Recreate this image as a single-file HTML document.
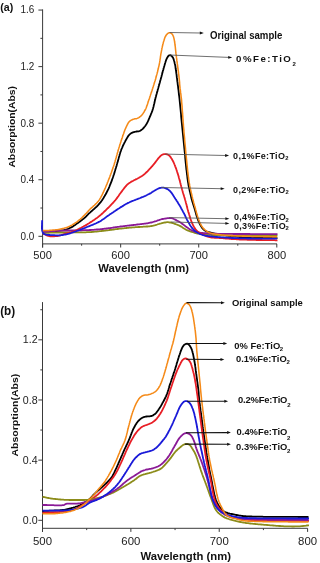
<!DOCTYPE html>
<html><head><meta charset="utf-8"><style>
html,body{margin:0;padding:0;background:#fff;width:318px;height:563px;overflow:hidden}
svg{display:block}
text{font-family:"Liberation Sans",sans-serif}
svg{will-change:transform}
</style></head><body>
<svg width="318" height="563" viewBox="0 0 318 563">
<line x1="42.6" y1="9.4" x2="42.6" y2="247.5" stroke="#3a3a3a" stroke-width="1"/>
<line x1="42.6" y1="243.9" x2="277.0" y2="243.9" stroke="#3a3a3a" stroke-width="1"/>
<line x1="38.4" y1="236.30" x2="42.6" y2="236.30" stroke="#3a3a3a" stroke-width="1"/>
<text x="34.2" y="239.70" text-anchor="end" font-size="10.3" fill="#222" textLength="13.8" lengthAdjust="spacingAndGlyphs">0.0</text>
<line x1="40.4" y1="208.02" x2="42.6" y2="208.02" stroke="#3a3a3a" stroke-width="1"/>
<line x1="38.4" y1="179.74" x2="42.6" y2="179.74" stroke="#3a3a3a" stroke-width="1"/>
<text x="34.2" y="183.14" text-anchor="end" font-size="10.3" fill="#222" textLength="13.8" lengthAdjust="spacingAndGlyphs">0.4</text>
<line x1="40.4" y1="151.46" x2="42.6" y2="151.46" stroke="#3a3a3a" stroke-width="1"/>
<line x1="38.4" y1="123.18" x2="42.6" y2="123.18" stroke="#3a3a3a" stroke-width="1"/>
<text x="34.2" y="126.58" text-anchor="end" font-size="10.3" fill="#222" textLength="13.8" lengthAdjust="spacingAndGlyphs">0.8</text>
<line x1="40.4" y1="94.90" x2="42.6" y2="94.90" stroke="#3a3a3a" stroke-width="1"/>
<line x1="38.4" y1="66.62" x2="42.6" y2="66.62" stroke="#3a3a3a" stroke-width="1"/>
<text x="34.2" y="70.02" text-anchor="end" font-size="10.3" fill="#222" textLength="13.8" lengthAdjust="spacingAndGlyphs">1.2</text>
<line x1="40.4" y1="38.34" x2="42.6" y2="38.34" stroke="#3a3a3a" stroke-width="1"/>
<line x1="38.4" y1="10.06" x2="42.6" y2="10.06" stroke="#3a3a3a" stroke-width="1"/>
<text x="34.2" y="13.46" text-anchor="end" font-size="10.3" fill="#222" textLength="13.8" lengthAdjust="spacingAndGlyphs">1.6</text>
<line x1="42.60" y1="243.9" x2="42.60" y2="247.5" stroke="#3a3a3a" stroke-width="1"/>
<text x="42.60" y="258.6" text-anchor="middle" font-size="11.0" fill="#222" textLength="18.6" lengthAdjust="spacingAndGlyphs">500</text>
<line x1="81.63" y1="243.9" x2="81.63" y2="245.70000000000002" stroke="#3a3a3a" stroke-width="1"/>
<line x1="120.67" y1="243.9" x2="120.67" y2="247.5" stroke="#3a3a3a" stroke-width="1"/>
<text x="120.67" y="258.6" text-anchor="middle" font-size="11.0" fill="#222" textLength="18.6" lengthAdjust="spacingAndGlyphs">600</text>
<line x1="159.70" y1="243.9" x2="159.70" y2="245.70000000000002" stroke="#3a3a3a" stroke-width="1"/>
<line x1="198.73" y1="243.9" x2="198.73" y2="247.5" stroke="#3a3a3a" stroke-width="1"/>
<text x="198.73" y="258.6" text-anchor="middle" font-size="11.0" fill="#222" textLength="18.6" lengthAdjust="spacingAndGlyphs">700</text>
<line x1="237.77" y1="243.9" x2="237.77" y2="245.70000000000002" stroke="#3a3a3a" stroke-width="1"/>
<line x1="276.80" y1="243.9" x2="276.80" y2="247.5" stroke="#3a3a3a" stroke-width="1"/>
<text x="276.80" y="258.6" text-anchor="middle" font-size="11.0" fill="#222" textLength="18.6" lengthAdjust="spacingAndGlyphs">800</text>
<text x="98.3" y="272.3" font-size="11.3" font-weight="bold" fill="#111" textLength="90.8" lengthAdjust="spacingAndGlyphs">Wavelength (nm)</text>
<text transform="translate(14.5,126.8) rotate(-90)" text-anchor="middle" font-size="9.7" font-weight="bold" fill="#111" textLength="81.6" lengthAdjust="spacingAndGlyphs">Absorption(Abs)</text>
<text x="0.2" y="11.4" font-size="10.8" font-weight="bold" fill="#111" textLength="13.0" lengthAdjust="spacingAndGlyphs">(a)</text>
<path d="M42.8,231.2 L43.8,231.2 L44.8,231.2 L45.8,231.2 L46.8,231.1 L47.8,231.1 L48.8,231.1 L49.8,231.1 L50.8,231.1 L51.8,231.1 L52.8,231.1 L53.8,231.1 L54.8,231.1 L55.8,231.0 L56.8,231.0 L57.8,230.9 L58.8,230.8 L59.8,230.7 L60.8,230.6 L61.8,230.4 L62.7,230.3 L63.7,230.1 L64.7,229.8 L65.7,229.6 L66.6,229.3 L67.6,229.0 L68.5,228.7 L69.4,228.3 L70.3,227.8 L71.2,227.4 L72.1,226.9 L72.9,226.4 L73.8,225.8 L74.6,225.3 L75.4,224.7 L76.2,224.1 L77.0,223.5 L77.9,222.9 L78.7,222.4 L79.5,221.8 L80.3,221.2 L81.1,220.6 L81.9,220.0 L82.7,219.4 L83.5,218.8 L84.2,218.1 L85.0,217.5 L85.7,216.8 L86.4,216.1 L87.1,215.4 L87.8,214.7 L88.5,213.9 L89.2,213.2 L90.0,212.6 L90.7,211.9 L91.5,211.2 L92.2,210.6 L93.0,209.9 L93.7,209.3 L94.5,208.6 L95.2,207.9 L95.9,207.3 L96.7,206.6 L97.4,205.8 L98.1,205.1 L98.7,204.4 L99.4,203.6 L100.0,202.9 L100.7,202.1 L101.3,201.3 L101.9,200.5 L102.4,199.7 L103.0,198.8 L103.5,198.0 L104.0,197.1 L104.5,196.3 L105.0,195.4 L105.5,194.6 L106.0,193.7 L106.5,192.8 L106.9,191.9 L107.4,191.0 L107.8,190.1 L108.3,189.2 L108.7,188.3 L109.1,187.4 L109.5,186.5 L109.8,185.5 L110.2,184.6 L110.6,183.7 L110.9,182.8 L111.3,181.8 L111.7,180.9 L112.0,179.9 L112.3,179.0 L112.7,178.1 L113.0,177.1 L113.3,176.2 L113.6,175.2 L114.0,174.3 L114.3,173.3 L114.6,172.4 L114.8,171.4 L115.1,170.5 L115.4,169.5 L115.7,168.5 L116.0,167.6 L116.3,166.6 L116.6,165.7 L116.8,164.7 L117.1,163.8 L117.4,162.8 L117.7,161.8 L118.0,160.9 L118.2,159.9 L118.5,158.9 L118.7,158.0 L119.0,157.0 L119.3,156.1 L119.6,155.1 L119.8,154.1 L120.1,153.2 L120.4,152.2 L120.7,151.3 L121.1,150.3 L121.4,149.4 L121.8,148.5 L122.2,147.6 L122.6,146.6 L123.0,145.7 L123.4,144.8 L123.9,143.9 L124.3,143.0 L124.8,142.1 L125.2,141.3 L125.7,140.4 L126.2,139.5 L126.7,138.6 L127.2,137.8 L127.7,136.9 L128.2,136.1 L128.8,135.3 L129.5,134.5 L130.3,133.9 L131.1,133.3 L131.9,132.8 L132.9,132.4 L133.8,132.1 L134.8,131.8 L135.7,131.7 L136.7,131.5 L137.7,131.4 L138.7,131.3 L139.6,131.0 L140.5,130.6 L141.3,130.0 L142.1,129.4 L142.9,128.7 L143.6,128.0 L144.2,127.2 L144.8,126.5 L145.4,125.7 L146.0,124.8 L146.5,124.0 L147.0,123.1 L147.5,122.2 L147.9,121.3 L148.4,120.4 L148.7,119.5 L149.1,118.6 L149.5,117.7 L149.9,116.7 L150.3,115.8 L150.7,114.9 L151.0,114.0 L151.4,113.1 L151.8,112.1 L152.2,111.2 L152.5,110.3 L152.8,109.3 L153.1,108.3 L153.3,107.4 L153.6,106.4 L153.8,105.4 L154.0,104.5 L154.3,103.5 L154.5,102.5 L154.7,101.5 L154.9,100.6 L155.2,99.6 L155.4,98.6 L155.6,97.6 L155.9,96.7 L156.1,95.7 L156.4,94.7 L156.7,93.8 L156.9,92.8 L157.2,91.9 L157.5,90.9 L157.7,89.9 L158.0,89.0 L158.3,88.0 L158.5,87.0 L158.8,86.1 L159.1,85.1 L159.3,84.2 L159.6,83.2 L159.9,82.2 L160.1,81.3 L160.4,80.3 L160.7,79.3 L160.9,78.4 L161.2,77.4 L161.5,76.4 L161.7,75.5 L162.0,74.5 L162.2,73.5 L162.5,72.6 L162.7,71.6 L163.0,70.6 L163.3,69.7 L163.5,68.7 L163.8,67.8 L164.1,66.8 L164.4,65.8 L164.6,64.9 L164.9,63.9 L165.2,63.0 L165.5,62.0 L165.8,61.0 L166.1,60.1 L166.5,59.2 L166.9,58.3 L167.4,57.4 L167.9,56.6 L168.5,55.8 L169.3,55.3 L170.2,55.2 L171.0,55.5 L171.8,56.1 L172.4,56.9 L173.0,57.7 L173.4,58.6 L173.7,59.5 L174.0,60.5 L174.3,61.4 L174.5,62.4 L174.7,63.4 L175.0,64.4 L175.2,65.3 L175.4,66.3 L175.5,67.3 L175.6,68.3 L175.8,69.3 L175.9,70.3 L176.1,71.3 L176.2,72.3 L176.3,73.2 L176.5,74.2 L176.6,75.2 L176.7,76.2 L176.8,77.2 L177.0,78.2 L177.1,79.2 L177.2,80.2 L177.3,81.2 L177.5,82.2 L177.6,83.2 L177.7,84.2 L177.8,85.1 L178.0,86.1 L178.1,87.1 L178.2,88.1 L178.3,89.1 L178.5,90.1 L178.6,91.1 L178.7,92.1 L178.8,93.1 L178.9,94.1 L179.0,95.1 L179.2,96.1 L179.3,97.1 L179.4,98.0 L179.5,99.0 L179.6,100.0 L179.7,101.0 L179.8,102.0 L179.9,103.0 L180.0,104.0 L180.1,105.0 L180.2,106.0 L180.3,107.0 L180.4,108.0 L180.5,109.0 L180.6,110.0 L180.7,111.0 L180.8,112.0 L180.9,113.0 L181.0,114.0 L181.1,115.0 L181.1,115.9 L181.2,116.9 L181.3,117.9 L181.4,118.9 L181.5,119.9 L181.6,120.9 L181.7,121.9 L181.8,122.9 L181.9,123.9 L182.0,124.9 L182.1,125.9 L182.2,126.9 L182.3,127.9 L182.4,128.9 L182.5,129.9 L182.6,130.9 L182.7,131.9 L182.8,132.9 L182.9,133.9 L183.0,134.8 L183.1,135.8 L183.2,136.8 L183.3,137.8 L183.4,138.8 L183.5,139.8 L183.6,140.8 L183.7,141.8 L183.8,142.8 L183.9,143.8 L184.0,144.8 L184.1,145.8 L184.2,146.8 L184.3,147.8 L184.4,148.8 L184.5,149.8 L184.6,150.8 L184.7,151.8 L184.8,152.7 L184.9,153.7 L185.0,154.7 L185.1,155.7 L185.2,156.7 L185.2,157.7 L185.3,158.7 L185.4,159.7 L185.5,160.7 L185.6,161.7 L185.7,162.7 L185.8,163.7 L185.9,164.7 L186.0,165.7 L186.1,166.7 L186.2,167.7 L186.3,168.7 L186.4,169.7 L186.6,170.6 L186.7,171.6 L186.8,172.6 L186.9,173.6 L187.0,174.6 L187.2,175.6 L187.3,176.6 L187.4,177.6 L187.5,178.6 L187.7,179.6 L187.8,180.6 L187.9,181.6 L188.1,182.5 L188.3,183.5 L188.4,184.5 L188.6,185.5 L188.8,186.5 L189.0,187.5 L189.2,188.4 L189.4,189.4 L189.6,190.4 L189.8,191.4 L190.1,192.3 L190.3,193.3 L190.5,194.3 L190.8,195.3 L191.0,196.2 L191.2,197.2 L191.4,198.2 L191.7,199.1 L191.9,200.1 L192.2,201.1 L192.5,202.0 L192.8,203.0 L193.1,203.9 L193.4,204.9 L193.7,205.8 L194.0,206.8 L194.3,207.8 L194.6,208.7 L194.9,209.7 L195.2,210.6 L195.4,211.6 L195.7,212.5 L196.0,213.5 L196.2,214.5 L196.5,215.4 L196.8,216.4 L197.1,217.3 L197.4,218.3 L197.8,219.2 L198.1,220.2 L198.5,221.1 L198.9,222.0 L199.3,222.9 L199.7,223.8 L200.2,224.7 L200.7,225.6 L201.2,226.4 L201.7,227.3 L202.3,228.1 L203.0,228.8 L203.7,229.5 L204.4,230.2 L205.3,230.7 L206.2,231.2 L207.1,231.6 L208.0,231.9 L209.0,232.2 L209.9,232.5 L210.9,232.7 L211.9,233.0 L212.8,233.2 L213.8,233.4 L214.8,233.6 L215.8,233.8 L216.8,234.0 L217.7,234.1 L218.7,234.3 L219.7,234.5 L220.7,234.6 L221.7,234.8 L222.7,234.9 L223.7,235.1 L224.7,235.2 L225.6,235.4 L226.6,235.5 L227.6,235.6 L228.6,235.8 L229.6,235.9 L230.6,236.0 L231.6,236.2 L232.6,236.3 L233.6,236.4 L234.6,236.5 L235.6,236.6 L236.6,236.7 L237.6,236.8 L238.5,236.9 L239.5,237.0 L240.5,237.0 L241.5,237.1 L242.5,237.2 L243.5,237.2 L244.5,237.3 L245.5,237.3 L246.5,237.4 L247.5,237.4 L248.5,237.5 L249.5,237.5 L250.5,237.6 L251.5,237.6 L252.5,237.6 L253.5,237.6 L254.5,237.7 L255.5,237.7 L256.5,237.7 L257.5,237.7 L258.5,237.8 L259.5,237.8 L260.5,237.8 L261.5,237.8 L262.5,237.9 L263.5,237.9 L264.5,237.9 L265.5,237.9 L266.5,237.9 L267.5,238.0 L268.5,238.0 L269.5,238.0 L270.5,238.0 L271.5,238.0 L272.5,238.1 L273.5,238.1 L274.5,238.1 L275.5,238.1 L276.5,238.2 L277.5,238.2" fill="none" stroke="#000000" stroke-width="1.8" stroke-linejoin="round" stroke-linecap="butt"/>
<path d="M42.8,232.9 L43.8,232.9 L44.8,232.9 L45.8,232.8 L46.8,232.8 L47.8,232.8 L48.8,232.8 L49.8,232.7 L50.8,232.7 L51.8,232.7 L52.8,232.7 L53.8,232.6 L54.8,232.6 L55.8,232.6 L56.8,232.6 L57.8,232.5 L58.8,232.5 L59.8,232.5 L60.8,232.5 L61.8,232.5 L62.8,232.5 L63.8,232.5 L64.8,232.4 L65.8,232.4 L66.8,232.4 L67.8,232.4 L68.8,232.4 L69.8,232.4 L70.8,232.4 L71.8,232.4 L72.8,232.4 L73.8,232.4 L74.8,232.4 L75.8,232.4 L76.8,232.4 L77.8,232.4 L78.8,232.4 L79.8,232.4 L80.8,232.4 L81.8,232.4 L82.8,232.3 L83.8,232.3 L84.8,232.3 L85.8,232.3 L86.8,232.2 L87.8,232.2 L88.8,232.2 L89.8,232.1 L90.8,232.1 L91.8,232.0 L92.8,231.9 L93.8,231.8 L94.8,231.7 L95.8,231.7 L96.8,231.6 L97.8,231.4 L98.7,231.3 L99.7,231.2 L100.7,231.1 L101.7,231.0 L102.7,230.9 L103.7,230.8 L104.7,230.6 L105.7,230.5 L106.7,230.4 L107.7,230.3 L108.7,230.2 L109.7,230.0 L110.7,229.9 L111.7,229.8 L112.6,229.6 L113.6,229.5 L114.6,229.4 L115.6,229.2 L116.6,229.1 L117.6,229.0 L118.6,228.9 L119.6,228.7 L120.6,228.6 L121.6,228.5 L122.6,228.4 L123.6,228.3 L124.6,228.2 L125.6,228.1 L126.5,228.0 L127.5,227.9 L128.5,227.8 L129.5,227.7 L130.5,227.6 L131.5,227.5 L132.5,227.4 L133.5,227.4 L134.5,227.3 L135.5,227.2 L136.5,227.1 L137.5,227.1 L138.5,227.0 L139.5,227.0 L140.5,226.9 L141.5,226.8 L142.5,226.8 L143.5,226.7 L144.5,226.7 L145.5,226.6 L146.5,226.5 L147.5,226.5 L148.5,226.4 L149.5,226.3 L150.5,226.1 L151.5,226.0 L152.4,225.8 L153.4,225.6 L154.4,225.3 L155.4,225.1 L156.3,224.8 L157.3,224.5 L158.2,224.2 L159.2,223.9 L160.1,223.6 L161.1,223.4 L162.1,223.1 L163.0,222.9 L164.0,222.7 L165.0,222.5 L166.0,222.3 L167.0,222.2 L168.0,222.2 L169.0,222.3 L170.0,222.5 L170.9,222.7 L171.9,222.9 L172.9,223.2 L173.8,223.5 L174.7,223.8 L175.7,224.2 L176.6,224.5 L177.6,224.9 L178.5,225.2 L179.4,225.6 L180.3,226.1 L181.2,226.6 L182.0,227.1 L182.8,227.7 L183.7,228.3 L184.5,228.8 L185.4,229.3 L186.2,229.8 L187.2,230.2 L188.1,230.6 L189.0,230.9 L189.9,231.3 L190.9,231.6 L191.8,231.9 L192.8,232.2 L193.7,232.5 L194.7,232.8 L195.7,233.1 L196.6,233.3 L197.6,233.5 L198.6,233.7 L199.6,233.9 L200.6,234.0 L201.6,234.2 L202.5,234.3 L203.5,234.4 L204.5,234.5 L205.5,234.6 L206.5,234.7 L207.5,234.7 L208.5,234.8 L209.5,234.9 L210.5,234.9 L211.5,235.0 L212.5,235.1 L213.5,235.1 L214.5,235.1 L215.5,235.2 L216.5,235.2 L217.5,235.2 L218.5,235.3 L219.5,235.3 L220.5,235.3 L221.5,235.3 L222.5,235.3 L223.5,235.4 L224.5,235.4 L225.5,235.4 L226.5,235.4 L227.5,235.4 L228.5,235.4 L229.5,235.4 L230.5,235.5 L231.5,235.5 L232.5,235.5 L233.5,235.5 L234.5,235.5 L235.5,235.5 L236.5,235.5 L237.5,235.5 L238.5,235.5 L239.5,235.5 L240.5,235.5 L241.5,235.5 L242.5,235.5 L243.5,235.5 L244.5,235.5 L245.5,235.5 L246.5,235.6 L247.5,235.6 L248.5,235.6 L249.5,235.6 L250.5,235.6 L251.5,235.6 L252.5,235.6 L253.5,235.6 L254.5,235.6 L255.5,235.6 L256.5,235.6 L257.5,235.6 L258.5,235.6 L259.5,235.6 L260.5,235.6 L261.5,235.6 L262.5,235.6 L263.5,235.6 L264.5,235.6 L265.5,235.6 L266.5,235.6 L267.5,235.6 L268.5,235.6 L269.5,235.7 L270.5,235.7 L271.5,235.7 L272.5,235.7 L273.5,235.7 L274.5,235.7 L275.5,235.7 L276.5,235.7 L277.5,235.7" fill="none" stroke="#8c8c1a" stroke-width="1.8" stroke-linejoin="round" stroke-linecap="butt"/>
<path d="M42.8,231.8 L43.8,231.7 L44.8,231.7 L45.8,231.6 L46.8,231.5 L47.8,231.5 L48.8,231.4 L49.8,231.3 L50.8,231.2 L51.8,231.2 L52.8,231.1 L53.8,231.0 L54.8,231.0 L55.8,230.9 L56.8,230.9 L57.8,230.8 L58.8,230.8 L59.7,230.7 L60.7,230.7 L61.7,230.6 L62.7,230.6 L63.7,230.6 L64.7,230.5 L65.7,230.5 L66.7,230.5 L67.7,230.5 L68.7,230.5 L69.7,230.5 L70.7,230.4 L71.7,230.4 L72.7,230.4 L73.7,230.4 L74.7,230.4 L75.7,230.4 L76.7,230.4 L77.7,230.3 L78.7,230.3 L79.7,230.3 L80.7,230.3 L81.7,230.3 L82.7,230.2 L83.7,230.2 L84.7,230.2 L85.7,230.2 L86.7,230.1 L87.7,230.1 L88.7,230.1 L89.7,230.0 L90.7,230.0 L91.7,229.9 L92.7,229.8 L93.7,229.8 L94.7,229.7 L95.7,229.6 L96.7,229.5 L97.7,229.5 L98.7,229.4 L99.7,229.3 L100.7,229.2 L101.7,229.1 L102.7,229.0 L103.7,228.9 L104.6,228.7 L105.6,228.6 L106.6,228.5 L107.6,228.4 L108.6,228.2 L109.6,228.1 L110.6,228.0 L111.6,227.8 L112.6,227.7 L113.6,227.5 L114.5,227.4 L115.5,227.2 L116.5,227.1 L117.5,226.9 L118.5,226.8 L119.5,226.7 L120.5,226.5 L121.5,226.4 L122.5,226.3 L123.5,226.2 L124.4,226.1 L125.4,225.9 L126.4,225.8 L127.4,225.7 L128.4,225.6 L129.4,225.5 L130.4,225.4 L131.4,225.2 L132.4,225.1 L133.4,225.0 L134.4,224.9 L135.4,224.8 L136.3,224.6 L137.3,224.5 L138.3,224.4 L139.3,224.3 L140.3,224.2 L141.3,224.1 L142.3,223.9 L143.3,223.8 L144.3,223.7 L145.3,223.6 L146.3,223.4 L147.3,223.3 L148.2,223.1 L149.2,222.9 L150.2,222.7 L151.2,222.5 L152.1,222.3 L153.1,222.0 L154.1,221.7 L155.0,221.4 L156.0,221.1 L156.9,220.8 L157.8,220.4 L158.8,220.1 L159.7,219.8 L160.7,219.5 L161.7,219.2 L162.6,219.0 L163.6,218.8 L164.6,218.6 L165.6,218.5 L166.6,218.3 L167.6,218.2 L168.6,218.1 L169.5,218.1 L170.5,218.1 L171.5,218.2 L172.5,218.4 L173.4,218.8 L174.3,219.2 L175.2,219.6 L176.1,220.1 L177.0,220.6 L177.9,221.0 L178.8,221.5 L179.6,222.0 L180.5,222.5 L181.3,223.1 L182.1,223.7 L182.9,224.3 L183.7,224.9 L184.5,225.5 L185.3,226.1 L186.1,226.7 L186.9,227.3 L187.7,227.8 L188.5,228.4 L189.4,229.0 L190.2,229.5 L191.1,230.0 L191.9,230.5 L192.9,230.9 L193.8,231.3 L194.7,231.6 L195.7,231.8 L196.7,232.1 L197.7,232.3 L198.6,232.4 L199.6,232.6 L200.6,232.8 L201.6,232.9 L202.6,233.0 L203.6,233.1 L204.6,233.2 L205.6,233.2 L206.6,233.3 L207.6,233.4 L208.6,233.4 L209.6,233.5 L210.6,233.5 L211.6,233.6 L212.6,233.6 L213.6,233.7 L214.6,233.7 L215.6,233.7 L216.6,233.7 L217.6,233.8 L218.6,233.8 L219.6,233.8 L220.6,233.8 L221.6,233.8 L222.5,233.8 L223.5,233.9 L224.5,233.9 L225.5,233.9 L226.5,233.9 L227.5,233.9 L228.5,233.9 L229.5,233.9 L230.5,233.9 L231.5,233.9 L232.5,233.9 L233.5,234.0 L234.5,234.0 L235.5,234.0 L236.5,234.0 L237.5,234.0 L238.5,234.0 L239.5,234.0 L240.5,234.0 L241.5,234.0 L242.5,234.0 L243.5,234.0 L244.5,234.0 L245.5,234.0 L246.5,234.0 L247.5,234.0 L248.5,234.0 L249.5,234.0 L250.5,234.1 L251.5,234.1 L252.5,234.1 L253.5,234.1 L254.5,234.1 L255.5,234.1 L256.5,234.1 L257.5,234.1 L258.5,234.1 L259.5,234.1 L260.5,234.1 L261.5,234.1 L262.5,234.1 L263.5,234.1 L264.5,234.1 L265.5,234.1 L266.5,234.1 L267.5,234.1 L268.5,234.1 L269.5,234.2 L270.5,234.2 L271.5,234.2 L272.5,234.2 L273.5,234.2 L274.5,234.2 L275.5,234.2 L276.5,234.2 L277.5,234.2" fill="none" stroke="#8a1a96" stroke-width="1.8" stroke-linejoin="round" stroke-linecap="butt"/>
<path d="M42.8,233.5 L43.7,233.9 L44.6,234.3 L45.5,234.8 L46.4,235.2 L47.3,235.6 L48.3,235.9 L49.3,236.1 L50.2,236.3 L51.2,236.4 L52.2,236.4 L53.2,236.4 L54.2,236.3 L55.2,236.2 L56.2,236.1 L57.2,236.0 L58.2,235.8 L59.2,235.6 L60.1,235.3 L61.1,235.1 L62.0,234.8 L63.0,234.5 L64.0,234.2 L64.9,234.0 L65.9,233.7 L66.9,233.4 L67.8,233.2 L68.8,232.9 L69.7,232.6 L70.7,232.3 L71.6,232.0 L72.6,231.7 L73.5,231.4 L74.4,231.0 L75.4,230.6 L76.3,230.2 L77.2,229.8 L78.1,229.3 L79.0,228.9 L79.9,228.4 L80.7,228.0 L81.6,227.5 L82.5,227.0 L83.4,226.5 L84.2,226.0 L85.1,225.6 L86.0,225.1 L86.9,224.6 L87.7,224.0 L88.6,223.5 L89.4,223.0 L90.2,222.4 L91.1,221.9 L91.9,221.4 L92.7,220.8 L93.6,220.2 L94.4,219.7 L95.2,219.1 L96.0,218.5 L96.9,218.0 L97.7,217.4 L98.4,216.8 L99.2,216.1 L100.0,215.5 L100.8,214.9 L101.5,214.2 L102.3,213.5 L103.0,212.9 L103.7,212.2 L104.4,211.5 L105.2,210.8 L105.9,210.1 L106.6,209.4 L107.3,208.7 L108.0,208.0 L108.7,207.3 L109.4,206.6 L110.1,205.9 L110.8,205.1 L111.5,204.4 L112.2,203.7 L112.9,203.0 L113.6,202.2 L114.2,201.5 L114.9,200.7 L115.5,200.0 L116.1,199.2 L116.7,198.4 L117.3,197.6 L117.9,196.8 L118.5,196.0 L119.1,195.1 L119.6,194.3 L120.2,193.5 L120.8,192.7 L121.4,191.9 L122.0,191.1 L122.6,190.3 L123.2,189.5 L123.8,188.7 L124.4,187.9 L125.0,187.1 L125.7,186.4 L126.3,185.6 L127.0,184.9 L127.7,184.2 L128.5,183.6 L129.3,183.0 L130.2,182.5 L131.0,181.9 L131.9,181.4 L132.8,181.0 L133.6,180.5 L134.5,180.0 L135.4,179.6 L136.3,179.1 L137.2,178.7 L138.1,178.2 L139.0,177.8 L139.8,177.2 L140.7,176.7 L141.5,176.2 L142.4,175.7 L143.2,175.1 L144.0,174.5 L144.8,173.9 L145.5,173.2 L146.2,172.5 L147.0,171.8 L147.7,171.1 L148.3,170.4 L149.0,169.7 L149.7,168.9 L150.4,168.2 L151.1,167.4 L151.7,166.7 L152.4,166.0 L153.0,165.2 L153.7,164.4 L154.3,163.7 L154.9,162.9 L155.5,162.1 L156.1,161.3 L156.7,160.5 L157.3,159.7 L157.9,158.9 L158.5,158.1 L159.2,157.4 L159.9,156.6 L160.6,155.9 L161.4,155.3 L162.2,154.8 L163.1,154.4 L164.1,154.2 L165.1,154.1 L166.1,154.1 L167.0,154.4 L167.9,154.7 L168.8,155.2 L169.6,155.9 L170.2,156.6 L170.8,157.4 L171.3,158.2 L171.9,159.1 L172.3,160.0 L172.8,160.8 L173.3,161.7 L173.7,162.6 L174.1,163.5 L174.5,164.5 L174.9,165.4 L175.2,166.3 L175.6,167.3 L175.9,168.2 L176.3,169.1 L176.6,170.1 L176.9,171.0 L177.2,172.0 L177.5,172.9 L177.8,173.9 L178.1,174.8 L178.4,175.8 L178.7,176.8 L178.9,177.7 L179.2,178.7 L179.5,179.6 L179.7,180.6 L180.0,181.6 L180.2,182.5 L180.5,183.5 L180.7,184.5 L181.0,185.4 L181.2,186.4 L181.5,187.4 L181.8,188.3 L182.0,189.3 L182.3,190.3 L182.6,191.2 L182.8,192.2 L183.1,193.1 L183.4,194.1 L183.7,195.0 L184.0,196.0 L184.3,197.0 L184.6,197.9 L184.9,198.9 L185.1,199.8 L185.4,200.8 L185.7,201.7 L185.9,202.7 L186.2,203.7 L186.4,204.6 L186.7,205.6 L186.9,206.6 L187.2,207.5 L187.4,208.5 L187.7,209.5 L188.0,210.4 L188.2,211.4 L188.5,212.4 L188.8,213.3 L189.1,214.3 L189.4,215.2 L189.7,216.2 L189.9,217.1 L190.2,218.1 L190.5,219.1 L190.9,220.0 L191.2,220.9 L191.6,221.9 L191.9,222.8 L192.4,223.7 L192.8,224.6 L193.2,225.5 L193.7,226.4 L194.2,227.3 L194.7,228.1 L195.2,228.9 L195.8,229.7 L196.5,230.5 L197.2,231.2 L197.9,231.9 L198.8,232.4 L199.6,232.9 L200.5,233.4 L201.4,233.8 L202.3,234.3 L203.2,234.7 L204.1,235.1 L205.0,235.5 L205.9,235.9 L206.9,236.3 L207.8,236.6 L208.7,236.9 L209.7,237.2 L210.7,237.4 L211.7,237.6 L212.7,237.7 L213.7,237.7 L214.7,237.8 L215.6,237.8 L216.6,237.9 L217.6,237.9 L218.6,237.9 L219.6,238.0 L220.6,238.0 L221.6,238.1 L222.6,238.2 L223.6,238.3 L224.6,238.4 L225.6,238.5 L226.6,238.5 L227.6,238.6 L228.6,238.7 L229.6,238.8 L230.6,238.9 L231.6,239.0 L232.6,239.0 L233.6,239.1 L234.6,239.2 L235.6,239.2 L236.6,239.3 L237.6,239.4 L238.6,239.4 L239.6,239.5 L240.6,239.5 L241.6,239.6 L242.6,239.6 L243.5,239.6 L244.5,239.7 L245.5,239.7 L246.5,239.7 L247.5,239.8 L248.5,239.8 L249.5,239.8 L250.5,239.8 L251.5,239.9 L252.5,239.9 L253.5,239.9 L254.5,239.9 L255.5,239.9 L256.5,240.0 L257.5,240.0 L258.5,240.0 L259.5,240.0 L260.5,240.0 L261.5,240.0 L262.5,240.1 L263.5,240.1 L264.5,240.1 L265.5,240.1 L266.5,240.1 L267.5,240.1 L268.5,240.1 L269.5,240.2 L270.5,240.2 L271.5,240.2 L272.5,240.2 L273.5,240.2 L274.5,240.2 L275.5,240.3 L276.5,240.3 L277.5,240.3" fill="none" stroke="#e81e25" stroke-width="1.8" stroke-linejoin="round" stroke-linecap="butt"/>
<path d="M42.1,220.2 L42.1,221.2 L42.1,222.2 L42.0,223.2 L42.0,224.2 L42.0,225.2 L41.9,226.2 L41.9,227.2 L41.9,228.2 L42.0,229.2 L42.1,230.2 L42.3,231.1 L42.6,232.1 L43.1,232.9 L43.7,233.7 L44.5,234.2 L45.5,234.5 L46.4,234.7 L47.4,234.8 L48.4,234.9 L49.4,235.0 L50.4,235.1 L51.4,235.1 L52.4,235.2 L53.4,235.2 L54.4,235.2 L55.4,235.3 L56.4,235.3 L57.4,235.3 L58.4,235.4 L59.4,235.4 L60.4,235.3 L61.4,235.2 L62.4,235.1 L63.3,234.9 L64.3,234.7 L65.3,234.5 L66.3,234.3 L67.2,234.1 L68.2,233.8 L69.2,233.6 L70.1,233.3 L71.1,233.0 L72.0,232.7 L73.0,232.4 L73.9,232.0 L74.9,231.7 L75.8,231.4 L76.7,231.0 L77.7,230.7 L78.6,230.3 L79.6,230.0 L80.5,229.6 L81.4,229.2 L82.3,228.9 L83.3,228.5 L84.2,228.2 L85.1,227.8 L86.1,227.4 L87.0,227.0 L87.9,226.7 L88.8,226.3 L89.8,225.9 L90.7,225.5 L91.6,225.1 L92.5,224.8 L93.5,224.4 L94.4,224.0 L95.3,223.7 L96.2,223.3 L97.1,222.8 L98.0,222.4 L98.9,221.9 L99.8,221.5 L100.7,220.9 L101.5,220.4 L102.3,219.8 L103.1,219.3 L104.0,218.7 L104.8,218.1 L105.6,217.5 L106.4,216.9 L107.2,216.3 L108.0,215.7 L108.8,215.2 L109.6,214.6 L110.5,214.0 L111.3,213.5 L112.1,212.9 L112.9,212.4 L113.8,211.8 L114.6,211.2 L115.4,210.7 L116.2,210.1 L117.1,209.6 L117.9,209.0 L118.8,208.5 L119.6,208.0 L120.4,207.4 L121.3,206.9 L122.1,206.4 L123.0,205.9 L123.9,205.3 L124.7,204.8 L125.6,204.3 L126.4,203.8 L127.3,203.4 L128.2,202.9 L129.1,202.5 L130.0,202.0 L130.9,201.6 L131.8,201.2 L132.8,200.8 L133.7,200.5 L134.6,200.1 L135.6,199.8 L136.5,199.4 L137.4,199.1 L138.4,198.7 L139.3,198.3 L140.2,198.0 L141.1,197.6 L142.1,197.2 L143.0,196.9 L143.9,196.5 L144.8,196.1 L145.7,195.7 L146.6,195.2 L147.5,194.8 L148.4,194.3 L149.3,193.9 L150.2,193.4 L151.0,192.9 L151.9,192.3 L152.7,191.8 L153.5,191.2 L154.4,190.7 L155.2,190.2 L156.1,189.7 L157.0,189.2 L157.9,188.8 L158.8,188.4 L159.7,188.0 L160.7,187.8 L161.7,187.6 L162.7,187.6 L163.7,187.7 L164.6,188.0 L165.6,188.3 L166.5,188.6 L167.4,189.1 L168.2,189.6 L169.0,190.2 L169.8,190.8 L170.5,191.6 L171.1,192.3 L171.7,193.1 L172.3,194.0 L172.8,194.8 L173.3,195.6 L173.9,196.5 L174.4,197.3 L175.0,198.2 L175.5,199.0 L176.1,199.8 L176.6,200.7 L177.2,201.5 L177.7,202.3 L178.2,203.2 L178.7,204.0 L179.3,204.9 L179.8,205.8 L180.3,206.6 L180.8,207.5 L181.2,208.4 L181.7,209.2 L182.2,210.1 L182.7,211.0 L183.1,211.9 L183.6,212.8 L184.1,213.6 L184.5,214.5 L185.0,215.4 L185.4,216.3 L185.8,217.2 L186.2,218.1 L186.7,219.0 L187.1,219.9 L187.6,220.8 L188.1,221.7 L188.6,222.6 L189.1,223.4 L189.6,224.3 L190.1,225.2 L190.6,226.0 L191.2,226.8 L191.8,227.6 L192.4,228.4 L193.1,229.1 L193.8,229.8 L194.5,230.5 L195.3,231.2 L196.1,231.8 L196.9,232.3 L197.7,232.9 L198.6,233.3 L199.5,233.8 L200.4,234.1 L201.4,234.5 L202.3,234.8 L203.3,235.1 L204.2,235.3 L205.2,235.6 L206.2,235.8 L207.2,235.9 L208.2,236.1 L209.2,236.2 L210.2,236.3 L211.1,236.4 L212.1,236.5 L213.1,236.6 L214.1,236.7 L215.1,236.8 L216.1,236.9 L217.1,237.0 L218.1,237.1 L219.1,237.1 L220.1,237.2 L221.1,237.3 L222.1,237.3 L223.1,237.4 L224.1,237.5 L225.1,237.6 L226.1,237.6 L227.1,237.7 L228.1,237.7 L229.1,237.8 L230.1,237.9 L231.1,237.9 L232.1,238.0 L233.1,238.0 L234.1,238.1 L235.1,238.1 L236.1,238.2 L237.1,238.2 L238.0,238.2 L239.0,238.3 L240.0,238.3 L241.0,238.3 L242.0,238.4 L243.0,238.4 L244.0,238.4 L245.0,238.4 L246.0,238.4 L247.0,238.5 L248.0,238.5 L249.0,238.5 L250.0,238.5 L251.0,238.5 L252.0,238.5 L253.0,238.5 L254.0,238.6 L255.0,238.6 L256.0,238.6 L257.0,238.6 L258.0,238.6 L259.0,238.6 L260.0,238.6 L261.0,238.6 L262.0,238.6 L263.0,238.6 L264.0,238.6 L265.0,238.6 L266.0,238.6 L267.0,238.6 L268.0,238.6 L269.0,238.6 L270.0,238.6 L271.0,238.6 L272.0,238.7 L273.0,238.7 L274.0,238.7 L275.0,238.7 L276.0,238.7 L277.0,238.7" fill="none" stroke="#1a1ad8" stroke-width="1.8" stroke-linejoin="round" stroke-linecap="butt"/>
<path d="M42.8,230.6 L43.8,230.6 L44.8,230.5 L45.8,230.5 L46.8,230.5 L47.8,230.4 L48.8,230.4 L49.8,230.3 L50.8,230.2 L51.8,230.2 L52.8,230.1 L53.8,230.0 L54.8,229.9 L55.8,229.8 L56.8,229.7 L57.8,229.6 L58.7,229.4 L59.7,229.2 L60.7,229.0 L61.7,228.8 L62.7,228.6 L63.6,228.4 L64.6,228.1 L65.6,227.8 L66.5,227.5 L67.5,227.2 L68.4,226.8 L69.3,226.4 L70.2,226.0 L71.1,225.5 L72.0,225.1 L72.8,224.5 L73.7,224.0 L74.5,223.5 L75.3,222.9 L76.2,222.3 L77.0,221.8 L77.8,221.2 L78.6,220.6 L79.3,219.9 L80.1,219.3 L80.9,218.6 L81.6,218.0 L82.3,217.3 L83.0,216.6 L83.7,215.9 L84.5,215.1 L85.1,214.4 L85.8,213.7 L86.5,213.0 L87.2,212.2 L87.9,211.5 L88.5,210.7 L89.2,210.0 L89.9,209.3 L90.6,208.6 L91.4,207.9 L92.1,207.3 L92.9,206.6 L93.6,205.9 L94.4,205.3 L95.1,204.6 L95.8,203.9 L96.5,203.2 L97.2,202.4 L97.8,201.7 L98.5,200.9 L99.1,200.1 L99.6,199.3 L100.2,198.4 L100.7,197.6 L101.1,196.7 L101.6,195.8 L102.1,194.9 L102.5,194.0 L102.9,193.1 L103.4,192.2 L103.8,191.3 L104.2,190.4 L104.6,189.5 L105.0,188.6 L105.4,187.7 L105.8,186.7 L106.2,185.8 L106.6,184.9 L107.0,184.0 L107.3,183.0 L107.7,182.1 L108.1,181.2 L108.4,180.3 L108.8,179.3 L109.2,178.4 L109.5,177.5 L109.9,176.5 L110.2,175.6 L110.6,174.6 L110.9,173.7 L111.3,172.8 L111.6,171.8 L111.9,170.9 L112.3,169.9 L112.6,169.0 L112.9,168.1 L113.2,167.1 L113.6,166.2 L113.9,165.2 L114.2,164.3 L114.5,163.3 L114.8,162.3 L115.1,161.4 L115.3,160.4 L115.6,159.5 L115.9,158.5 L116.2,157.5 L116.4,156.6 L116.7,155.6 L117.0,154.7 L117.2,153.7 L117.5,152.7 L117.8,151.8 L118.1,150.8 L118.3,149.8 L118.6,148.9 L118.9,147.9 L119.2,147.0 L119.5,146.0 L119.8,145.1 L120.1,144.1 L120.4,143.2 L120.7,142.2 L121.0,141.3 L121.3,140.3 L121.6,139.4 L122.0,138.4 L122.3,137.5 L122.6,136.5 L122.9,135.6 L123.2,134.6 L123.6,133.7 L123.9,132.7 L124.2,131.8 L124.6,130.9 L124.9,129.9 L125.3,129.0 L125.7,128.1 L126.1,127.2 L126.5,126.3 L127.0,125.3 L127.4,124.5 L127.9,123.6 L128.4,122.7 L129.0,121.9 L129.7,121.2 L130.5,120.6 L131.3,120.1 L132.2,119.7 L133.2,119.3 L134.1,119.1 L135.1,118.8 L136.1,118.7 L137.0,118.4 L138.0,118.0 L138.8,117.6 L139.7,117.0 L140.5,116.4 L141.2,115.7 L141.9,115.0 L142.5,114.2 L143.1,113.4 L143.6,112.6 L144.2,111.7 L144.6,110.9 L145.1,110.0 L145.6,109.1 L146.0,108.2 L146.4,107.2 L146.7,106.3 L147.1,105.4 L147.4,104.4 L147.7,103.5 L148.0,102.5 L148.3,101.6 L148.6,100.6 L148.9,99.7 L149.3,98.7 L149.6,97.8 L149.9,96.8 L150.2,95.9 L150.5,94.9 L150.8,94.0 L151.1,93.0 L151.5,92.1 L151.8,91.1 L152.1,90.2 L152.4,89.2 L152.7,88.3 L153.0,87.3 L153.3,86.4 L153.6,85.4 L153.9,84.5 L154.2,83.5 L154.5,82.6 L154.8,81.6 L155.1,80.7 L155.4,79.7 L155.7,78.7 L155.9,77.8 L156.2,76.8 L156.4,75.8 L156.7,74.9 L157.0,73.9 L157.2,72.9 L157.5,72.0 L157.7,71.0 L157.9,70.0 L158.2,69.1 L158.4,68.1 L158.6,67.1 L158.9,66.1 L159.1,65.2 L159.3,64.2 L159.5,63.2 L159.7,62.2 L159.8,61.2 L160.0,60.2 L160.1,59.2 L160.3,58.3 L160.4,57.3 L160.5,56.3 L160.7,55.3 L160.8,54.3 L161.0,53.3 L161.2,52.3 L161.4,51.3 L161.6,50.4 L161.8,49.4 L161.9,48.4 L162.2,47.4 L162.4,46.4 L162.6,45.5 L162.8,44.5 L163.1,43.5 L163.3,42.6 L163.6,41.6 L163.9,40.7 L164.2,39.7 L164.5,38.7 L164.8,37.8 L165.2,36.9 L165.7,36.0 L166.2,35.1 L166.8,34.4 L167.5,33.7 L168.3,33.1 L169.2,32.7 L170.1,32.7 L171.0,33.1 L171.8,33.7 L172.4,34.4 L172.9,35.3 L173.3,36.2 L173.6,37.1 L173.9,38.1 L174.1,39.1 L174.3,40.1 L174.5,41.0 L174.6,42.0 L174.8,43.0 L174.9,44.0 L175.0,45.0 L175.2,46.0 L175.3,47.0 L175.4,48.0 L175.5,49.0 L175.6,50.0 L175.7,51.0 L175.8,52.0 L175.9,52.9 L176.0,53.9 L176.2,54.9 L176.3,55.9 L176.4,56.9 L176.5,57.9 L176.7,58.9 L176.8,59.9 L176.9,60.9 L177.1,61.9 L177.2,62.9 L177.3,63.9 L177.5,64.8 L177.6,65.8 L177.7,66.8 L177.9,67.8 L178.0,68.8 L178.1,69.8 L178.3,70.8 L178.4,71.8 L178.5,72.8 L178.6,73.8 L178.8,74.8 L178.9,75.8 L179.0,76.7 L179.1,77.7 L179.2,78.7 L179.3,79.7 L179.4,80.7 L179.5,81.7 L179.6,82.7 L179.6,83.7 L179.7,84.7 L179.8,85.7 L179.9,86.7 L180.0,87.7 L180.1,88.7 L180.3,89.7 L180.4,90.7 L180.5,91.7 L180.6,92.7 L180.8,93.7 L180.9,94.6 L181.0,95.6 L181.1,96.6 L181.2,97.6 L181.4,98.6 L181.5,99.6 L181.6,100.6 L181.6,101.6 L181.7,102.6 L181.8,103.6 L181.9,104.6 L182.0,105.6 L182.1,106.6 L182.1,107.6 L182.2,108.6 L182.3,109.6 L182.3,110.6 L182.4,111.6 L182.5,112.6 L182.6,113.6 L182.6,114.6 L182.7,115.6 L182.8,116.6 L182.8,117.6 L182.9,118.6 L183.0,119.6 L183.1,120.6 L183.1,121.5 L183.2,122.5 L183.3,123.5 L183.4,124.5 L183.4,125.5 L183.5,126.5 L183.6,127.5 L183.7,128.5 L183.8,129.5 L183.9,130.5 L183.9,131.5 L184.0,132.5 L184.1,133.5 L184.2,134.5 L184.3,135.5 L184.4,136.5 L184.5,137.5 L184.6,138.5 L184.6,139.5 L184.7,140.5 L184.8,141.5 L184.9,142.5 L185.0,143.5 L185.1,144.5 L185.2,145.5 L185.3,146.5 L185.4,147.5 L185.5,148.4 L185.5,149.4 L185.6,150.4 L185.7,151.4 L185.8,152.4 L185.9,153.4 L186.0,154.4 L186.1,155.4 L186.2,156.4 L186.3,157.4 L186.4,158.4 L186.5,159.4 L186.6,160.4 L186.7,161.4 L186.8,162.4 L186.9,163.4 L187.0,164.4 L187.1,165.4 L187.2,166.4 L187.3,167.4 L187.4,168.4 L187.5,169.3 L187.6,170.3 L187.7,171.3 L187.9,172.3 L188.0,173.3 L188.1,174.3 L188.2,175.3 L188.3,176.3 L188.5,177.3 L188.6,178.3 L188.7,179.3 L188.9,180.3 L189.0,181.3 L189.1,182.2 L189.3,183.2 L189.5,184.2 L189.6,185.2 L189.8,186.2 L190.0,187.2 L190.2,188.1 L190.4,189.1 L190.7,190.1 L190.9,191.1 L191.1,192.0 L191.3,193.0 L191.6,194.0 L191.8,195.0 L192.0,195.9 L192.2,196.9 L192.5,197.9 L192.7,198.9 L193.0,199.8 L193.2,200.8 L193.5,201.8 L193.7,202.7 L194.0,203.7 L194.3,204.7 L194.5,205.6 L194.8,206.6 L195.1,207.5 L195.4,208.5 L195.6,209.5 L195.9,210.4 L196.2,211.4 L196.4,212.4 L196.7,213.3 L197.0,214.3 L197.2,215.2 L197.5,216.2 L197.8,217.2 L198.1,218.1 L198.4,219.1 L198.8,220.0 L199.2,220.9 L199.5,221.8 L199.9,222.8 L200.3,223.7 L200.8,224.6 L201.3,225.5 L201.8,226.3 L202.3,227.1 L203.0,227.9 L203.6,228.7 L204.3,229.3 L205.1,230.0 L205.9,230.6 L206.7,231.2 L207.5,231.8 L208.4,232.3 L209.3,232.7 L210.2,233.0 L211.2,233.3 L212.1,233.5 L213.1,233.7 L214.1,233.9 L215.1,234.1 L216.1,234.2 L217.1,234.3 L218.1,234.5 L219.1,234.6 L220.1,234.7 L221.1,234.8 L222.0,234.9 L223.0,235.0 L224.0,235.1 L225.0,235.2 L226.0,235.3 L227.0,235.3 L228.0,235.4 L229.0,235.5 L230.0,235.5 L231.0,235.6 L232.0,235.6 L233.0,235.7 L234.0,235.7 L235.0,235.8 L236.0,235.8 L237.0,235.9 L238.0,235.9 L239.0,236.0 L240.0,236.0 L241.0,236.0 L242.0,236.1 L243.0,236.1 L244.0,236.1 L245.0,236.2 L246.0,236.2 L247.0,236.2 L248.0,236.3 L249.0,236.3 L250.0,236.3 L251.0,236.3 L252.0,236.4 L253.0,236.4 L254.0,236.4 L255.0,236.4 L256.0,236.4 L257.0,236.5 L258.0,236.5 L259.0,236.5 L260.0,236.5 L261.0,236.5 L262.0,236.5 L263.0,236.6 L264.0,236.6 L265.0,236.6 L266.0,236.6 L267.0,236.6 L268.0,236.6 L269.0,236.6 L270.0,236.7 L271.0,236.7 L272.0,236.7 L273.0,236.7 L274.0,236.7 L275.0,236.7 L276.0,236.8 L277.0,236.8" fill="none" stroke="#f58a18" stroke-width="1.55" stroke-linejoin="round" stroke-linecap="butt"/>
<line x1="169.6" y1="32.5" x2="200.3" y2="33.0" stroke="#555" stroke-width="0.85"/>
<path d="M203.8,33.0 L199.8,31.6 L199.8,34.4 Z" fill="#111"/>
<line x1="169.7" y1="55.0" x2="228.7" y2="57.4" stroke="#555" stroke-width="0.85"/>
<path d="M232.2,57.4 L228.2,56.0 L228.2,58.8 Z" fill="#111"/>
<line x1="165.1" y1="154.1" x2="225.6" y2="155.5" stroke="#555" stroke-width="0.85"/>
<path d="M229.1,155.5 L225.1,154.1 L225.1,156.9 Z" fill="#111"/>
<line x1="161.3" y1="187.5" x2="221.2" y2="188.7" stroke="#555" stroke-width="0.85"/>
<path d="M224.7,188.7 L220.7,187.29999999999998 L220.7,190.1 Z" fill="#111"/>
<line x1="168.9" y1="217.6" x2="225.9" y2="218.7" stroke="#555" stroke-width="0.85"/>
<path d="M229.4,218.7 L225.4,217.29999999999998 L225.4,220.1 Z" fill="#111"/>
<line x1="170.8" y1="222.0" x2="225.9" y2="223.4" stroke="#555" stroke-width="0.85"/>
<path d="M229.4,223.4 L225.4,222.0 L225.4,224.8 Z" fill="#111"/>
<text x="236.1" y="61.7" font-size="9.7" font-weight="bold" fill="#111" textLength="54.8" lengthAdjust="spacing">0%Fe:TiO</text>
<text x="292.4" y="65.9" font-size="6.0" font-weight="bold" fill="#111">2</text>
<text x="233.1" y="159.2" font-size="9.0" font-weight="bold" fill="#111" textLength="51.8" lengthAdjust="spacing">0,1%Fe:TiO</text>
<text x="285.2" y="160.4" font-size="5.8" font-weight="bold" fill="#111">2</text>
<text x="233.1" y="193.1" font-size="9.0" font-weight="bold" fill="#111" textLength="52.2" lengthAdjust="spacing">0,2%Fe:TiO</text>
<text x="285.6" y="194.3" font-size="5.8" font-weight="bold" fill="#111">2</text>
<text x="233.9" y="220.0" font-size="9.0" font-weight="bold" fill="#111" textLength="51.8" lengthAdjust="spacing">0,4%Fe:TiO</text>
<text x="285.6" y="221.5" font-size="5.8" font-weight="bold" fill="#111">2</text>
<text x="233.9" y="228.8" font-size="9.0" font-weight="bold" fill="#111" textLength="51.8" lengthAdjust="spacing">0,3%Fe:TiO</text>
<text x="285.6" y="229.7" font-size="5.8" font-weight="bold" fill="#111">2</text>
<text x="210.0" y="39.3" font-size="10.0" font-weight="bold" fill="#111" textLength="72.4" lengthAdjust="spacingAndGlyphs">Original sample</text>
<line x1="42.5" y1="302.1" x2="42.5" y2="531.9" stroke="#3a3a3a" stroke-width="1"/>
<line x1="42.5" y1="528.3" x2="307.6" y2="528.3" stroke="#3a3a3a" stroke-width="1"/>
<line x1="38.3" y1="520.30" x2="42.5" y2="520.30" stroke="#3a3a3a" stroke-width="1"/>
<text x="37.6" y="523.90" text-anchor="end" font-size="10.3" fill="#222" textLength="14.8" lengthAdjust="spacingAndGlyphs">0.0</text>
<line x1="40.3" y1="490.22" x2="42.5" y2="490.22" stroke="#3a3a3a" stroke-width="1"/>
<line x1="38.3" y1="460.14" x2="42.5" y2="460.14" stroke="#3a3a3a" stroke-width="1"/>
<text x="37.6" y="463.74" text-anchor="end" font-size="10.3" fill="#222" textLength="14.8" lengthAdjust="spacingAndGlyphs">0.4</text>
<line x1="40.3" y1="430.06" x2="42.5" y2="430.06" stroke="#3a3a3a" stroke-width="1"/>
<line x1="38.3" y1="399.98" x2="42.5" y2="399.98" stroke="#3a3a3a" stroke-width="1"/>
<text x="37.6" y="403.58" text-anchor="end" font-size="10.3" fill="#222" textLength="14.8" lengthAdjust="spacingAndGlyphs">0.8</text>
<line x1="40.3" y1="369.90" x2="42.5" y2="369.90" stroke="#3a3a3a" stroke-width="1"/>
<line x1="38.3" y1="339.82" x2="42.5" y2="339.82" stroke="#3a3a3a" stroke-width="1"/>
<text x="37.6" y="343.42" text-anchor="end" font-size="10.3" fill="#222" textLength="14.8" lengthAdjust="spacingAndGlyphs">1.2</text>
<line x1="40.3" y1="309.74" x2="42.5" y2="309.74" stroke="#3a3a3a" stroke-width="1"/>
<line x1="42.50" y1="528.3" x2="42.50" y2="531.9" stroke="#3a3a3a" stroke-width="1"/>
<text x="42.50" y="544.6" text-anchor="middle" font-size="11.2" fill="#222" textLength="19.0" lengthAdjust="spacingAndGlyphs">500</text>
<line x1="86.68" y1="528.3" x2="86.68" y2="530.0999999999999" stroke="#3a3a3a" stroke-width="1"/>
<line x1="130.87" y1="528.3" x2="130.87" y2="531.9" stroke="#3a3a3a" stroke-width="1"/>
<text x="130.87" y="544.6" text-anchor="middle" font-size="11.2" fill="#222" textLength="19.0" lengthAdjust="spacingAndGlyphs">600</text>
<line x1="175.05" y1="528.3" x2="175.05" y2="530.0999999999999" stroke="#3a3a3a" stroke-width="1"/>
<line x1="219.23" y1="528.3" x2="219.23" y2="531.9" stroke="#3a3a3a" stroke-width="1"/>
<text x="219.23" y="544.6" text-anchor="middle" font-size="11.2" fill="#222" textLength="19.0" lengthAdjust="spacingAndGlyphs">700</text>
<line x1="263.42" y1="528.3" x2="263.42" y2="530.0999999999999" stroke="#3a3a3a" stroke-width="1"/>
<line x1="307.60" y1="528.3" x2="307.60" y2="531.9" stroke="#3a3a3a" stroke-width="1"/>
<text x="307.60" y="544.6" text-anchor="middle" font-size="11.2" fill="#222" textLength="19.0" lengthAdjust="spacingAndGlyphs">800</text>
<text x="140.4" y="560.0" font-size="11.3" font-weight="bold" fill="#111" textLength="90.6" lengthAdjust="spacingAndGlyphs">Wavelength (nm)</text>
<text transform="translate(17.9,415.1) rotate(-90)" text-anchor="middle" font-size="9.9" font-weight="bold" fill="#111" textLength="82.8" lengthAdjust="spacingAndGlyphs">Absorption(Abs)</text>
<text x="0.2" y="315.2" font-size="12.2" font-weight="bold" fill="#111" textLength="15.0" lengthAdjust="spacingAndGlyphs">(b)</text>
<path d="M42.5,511.0 L43.5,511.0 L44.5,510.9 L45.5,510.9 L46.5,510.9 L47.5,510.8 L48.5,510.8 L49.5,510.7 L50.5,510.7 L51.5,510.7 L52.5,510.6 L53.5,510.6 L54.5,510.5 L55.5,510.5 L56.5,510.4 L57.5,510.4 L58.5,510.3 L59.5,510.3 L60.5,510.2 L61.5,510.1 L62.5,510.0 L63.5,509.9 L64.4,509.8 L65.4,509.6 L66.4,509.4 L67.4,509.2 L68.4,509.0 L69.3,508.7 L70.3,508.5 L71.2,508.2 L72.2,507.9 L73.2,507.6 L74.1,507.3 L75.1,507.0 L76.0,506.7 L77.0,506.4 L77.9,506.1 L78.8,505.7 L79.8,505.3 L80.7,504.9 L81.6,504.5 L82.4,504.0 L83.3,503.4 L84.1,502.8 L84.9,502.3 L85.8,501.8 L86.6,501.3 L87.5,500.8 L88.3,500.2 L89.1,499.6 L89.8,498.9 L90.5,498.2 L91.2,497.5 L91.9,496.7 L92.5,496.0 L93.2,495.2 L93.9,494.5 L94.6,493.8 L95.3,493.1 L96.0,492.4 L96.8,491.7 L97.5,491.1 L98.3,490.4 L99.0,489.8 L99.8,489.1 L100.5,488.4 L101.2,487.8 L102.0,487.1 L102.7,486.4 L103.5,485.7 L104.2,485.1 L104.9,484.4 L105.7,483.7 L106.4,483.0 L107.1,482.3 L107.8,481.6 L108.5,480.9 L109.2,480.2 L109.9,479.5 L110.6,478.7 L111.2,477.9 L111.8,477.1 L112.3,476.3 L112.8,475.4 L113.3,474.5 L113.7,473.6 L114.2,472.7 L114.6,471.8 L115.0,470.9 L115.4,470.0 L115.8,469.1 L116.3,468.2 L116.7,467.3 L117.1,466.4 L117.5,465.5 L117.9,464.6 L118.3,463.7 L118.7,462.7 L119.1,461.8 L119.5,460.9 L119.9,460.0 L120.3,459.1 L120.7,458.2 L121.1,457.2 L121.5,456.3 L121.9,455.4 L122.3,454.5 L122.6,453.6 L123.1,452.6 L123.5,451.7 L123.9,450.8 L124.3,449.9 L124.7,449.0 L125.1,448.1 L125.6,447.2 L126.0,446.3 L126.4,445.4 L126.9,444.5 L127.3,443.6 L127.7,442.7 L128.1,441.8 L128.5,440.9 L128.9,439.9 L129.3,439.0 L129.7,438.1 L130.1,437.2 L130.4,436.2 L130.8,435.3 L131.1,434.4 L131.5,433.4 L131.8,432.5 L132.2,431.6 L132.6,430.6 L133.0,429.7 L133.4,428.8 L133.9,427.9 L134.4,427.1 L134.8,426.2 L135.3,425.3 L135.8,424.4 L136.4,423.6 L136.9,422.8 L137.5,422.0 L138.1,421.2 L138.8,420.5 L139.5,419.8 L140.3,419.1 L141.1,418.5 L141.9,418.0 L142.8,417.5 L143.7,417.1 L144.7,416.9 L145.6,416.7 L146.6,416.5 L147.6,416.4 L148.6,416.4 L149.6,416.4 L150.6,416.2 L151.6,416.0 L152.5,415.6 L153.4,415.1 L154.2,414.6 L155.0,414.0 L155.7,413.3 L156.4,412.6 L157.0,411.8 L157.6,411.0 L158.2,410.2 L158.7,409.3 L159.3,408.5 L159.8,407.7 L160.4,406.8 L160.9,406.0 L161.4,405.1 L161.9,404.2 L162.3,403.3 L162.8,402.5 L163.3,401.6 L163.8,400.7 L164.3,399.8 L164.7,398.9 L165.2,398.1 L165.6,397.2 L166.0,396.3 L166.4,395.3 L166.8,394.4 L167.2,393.5 L167.5,392.5 L167.8,391.6 L168.1,390.6 L168.4,389.7 L168.7,388.7 L169.0,387.8 L169.2,386.8 L169.5,385.8 L169.8,384.9 L170.1,383.9 L170.5,383.0 L170.8,382.0 L171.1,381.1 L171.4,380.1 L171.7,379.2 L172.0,378.3 L172.4,377.3 L172.7,376.4 L173.0,375.4 L173.3,374.5 L173.6,373.5 L173.9,372.6 L174.3,371.6 L174.6,370.7 L174.9,369.7 L175.2,368.8 L175.5,367.8 L175.8,366.9 L176.1,365.9 L176.4,364.9 L176.6,364.0 L176.9,363.0 L177.2,362.1 L177.5,361.1 L177.8,360.2 L178.1,359.2 L178.4,358.2 L178.7,357.3 L179.0,356.3 L179.3,355.4 L179.7,354.5 L180.0,353.5 L180.3,352.6 L180.6,351.6 L181.0,350.7 L181.3,349.8 L181.7,348.8 L182.1,347.9 L182.6,347.0 L183.1,346.2 L183.7,345.4 L184.4,344.7 L185.2,344.2 L186.1,343.8 L187.1,343.7 L187.9,344.0 L188.7,344.5 L189.4,345.3 L190.0,346.1 L190.5,346.9 L191.0,347.8 L191.4,348.7 L191.8,349.6 L192.1,350.6 L192.4,351.5 L192.6,352.5 L192.9,353.5 L193.1,354.4 L193.3,355.4 L193.5,356.4 L193.7,357.4 L193.9,358.4 L194.1,359.3 L194.3,360.3 L194.4,361.3 L194.6,362.3 L194.8,363.3 L194.9,364.3 L195.1,365.2 L195.2,366.2 L195.4,367.2 L195.5,368.2 L195.6,369.2 L195.7,370.2 L195.9,371.2 L196.0,372.2 L196.1,373.2 L196.3,374.2 L196.4,375.2 L196.5,376.1 L196.7,377.1 L196.8,378.1 L197.0,379.1 L197.1,380.1 L197.2,381.1 L197.4,382.1 L197.5,383.1 L197.6,384.1 L197.8,385.1 L197.9,386.0 L198.0,387.0 L198.1,388.0 L198.3,389.0 L198.4,390.0 L198.5,391.0 L198.6,392.0 L198.7,393.0 L198.7,394.0 L198.8,395.0 L198.9,396.0 L199.0,397.0 L199.1,398.0 L199.2,399.0 L199.3,400.0 L199.4,401.0 L199.5,401.9 L199.6,402.9 L199.8,403.9 L199.9,404.9 L200.0,405.9 L200.1,406.9 L200.3,407.9 L200.4,408.9 L200.5,409.9 L200.6,410.9 L200.8,411.9 L200.9,412.9 L201.0,413.8 L201.2,414.8 L201.3,415.8 L201.4,416.8 L201.5,417.8 L201.7,418.8 L201.8,419.8 L201.9,420.8 L202.1,421.8 L202.2,422.8 L202.3,423.8 L202.5,424.7 L202.6,425.7 L202.7,426.7 L202.9,427.7 L203.0,428.7 L203.2,429.7 L203.3,430.7 L203.4,431.7 L203.6,432.7 L203.7,433.7 L203.8,434.6 L204.0,435.6 L204.1,436.6 L204.3,437.6 L204.4,438.6 L204.5,439.6 L204.7,440.6 L204.8,441.6 L205.0,442.6 L205.1,443.5 L205.3,444.5 L205.4,445.5 L205.5,446.5 L205.7,447.5 L205.8,448.5 L206.0,449.5 L206.1,450.5 L206.3,451.5 L206.4,452.4 L206.6,453.4 L206.8,454.4 L206.9,455.4 L207.1,456.4 L207.2,457.4 L207.4,458.4 L207.6,459.3 L207.7,460.3 L207.9,461.3 L208.1,462.3 L208.3,463.3 L208.4,464.3 L208.6,465.3 L208.8,466.2 L209.0,467.2 L209.2,468.2 L209.3,469.2 L209.5,470.2 L209.7,471.1 L209.9,472.1 L210.1,473.1 L210.3,474.1 L210.5,475.1 L210.7,476.0 L210.9,477.0 L211.1,478.0 L211.3,479.0 L211.5,480.0 L211.7,480.9 L211.9,481.9 L212.1,482.9 L212.3,483.9 L212.4,484.9 L212.6,485.9 L212.8,486.8 L213.0,487.8 L213.2,488.8 L213.4,489.8 L213.6,490.8 L213.8,491.7 L214.0,492.7 L214.2,493.7 L214.4,494.7 L214.6,495.6 L214.9,496.6 L215.2,497.6 L215.5,498.5 L215.8,499.5 L216.1,500.4 L216.5,501.3 L216.9,502.2 L217.3,503.1 L217.8,504.0 L218.3,504.9 L218.8,505.7 L219.4,506.6 L220.0,507.4 L220.5,508.2 L221.2,509.0 L221.9,509.7 L222.6,510.4 L223.4,511.0 L224.2,511.5 L225.1,512.0 L226.0,512.4 L226.9,512.7 L227.9,513.1 L228.8,513.3 L229.8,513.6 L230.8,513.8 L231.8,514.0 L232.7,514.2 L233.7,514.4 L234.7,514.6 L235.7,514.8 L236.6,515.0 L237.6,515.2 L238.6,515.4 L239.6,515.6 L240.6,515.7 L241.6,515.9 L242.6,516.0 L243.6,516.1 L244.6,516.2 L245.6,516.2 L246.5,516.3 L247.5,516.4 L248.5,516.4 L249.5,516.5 L250.5,516.5 L251.5,516.5 L252.5,516.6 L253.5,516.6 L254.5,516.6 L255.5,516.6 L256.5,516.6 L257.5,516.7 L258.5,516.7 L259.5,516.7 L260.5,516.7 L261.5,516.7 L262.5,516.7 L263.5,516.8 L264.5,516.8 L265.5,516.8 L266.5,516.8 L267.5,516.8 L268.5,516.8 L269.5,516.8 L270.5,516.8 L271.5,516.8 L272.5,516.8 L273.5,516.9 L274.5,516.9 L275.5,516.9 L276.5,516.9 L277.5,516.9 L278.5,516.9 L279.5,516.9 L280.5,516.9 L281.5,516.9 L282.5,516.9 L283.5,516.9 L284.5,516.9 L285.5,516.9 L286.5,516.9 L287.5,516.9 L288.5,516.9 L289.5,516.9 L290.5,516.9 L291.5,516.9 L292.5,516.9 L293.5,516.9 L294.5,516.9 L295.5,516.9 L296.5,516.9 L297.5,516.9 L298.5,517.0 L299.5,517.0 L300.5,517.0 L301.5,517.0 L302.5,517.0 L303.5,517.0 L304.5,517.0 L305.5,517.0 L306.5,517.0 L307.5,517.0 L308.5,517.0" fill="none" stroke="#000000" stroke-width="1.8" stroke-linejoin="round" stroke-linecap="butt"/>
<path d="M42.5,512.8 L43.5,512.7 L44.5,512.7 L45.5,512.6 L46.5,512.6 L47.5,512.6 L48.5,512.5 L49.5,512.5 L50.5,512.4 L51.5,512.4 L52.5,512.4 L53.5,512.3 L54.5,512.3 L55.5,512.2 L56.5,512.2 L57.5,512.1 L58.5,512.1 L59.5,512.0 L60.5,511.9 L61.5,511.8 L62.5,511.7 L63.4,511.6 L64.4,511.5 L65.4,511.3 L66.4,511.2 L67.4,511.0 L68.4,510.8 L69.4,510.6 L70.3,510.4 L71.3,510.2 L72.3,509.9 L73.2,509.6 L74.2,509.3 L75.1,508.9 L76.0,508.6 L76.9,508.1 L77.8,507.7 L78.7,507.2 L79.6,506.7 L80.4,506.2 L81.3,505.7 L82.1,505.2 L83.0,504.7 L83.9,504.2 L84.7,503.7 L85.6,503.1 L86.4,502.6 L87.3,502.1 L88.1,501.6 L89.0,501.1 L89.8,500.5 L90.7,500.0 L91.5,499.4 L92.3,498.8 L93.1,498.2 L93.9,497.6 L94.7,497.0 L95.5,496.4 L96.3,495.8 L97.0,495.1 L97.8,494.5 L98.5,493.8 L99.2,493.1 L100.0,492.4 L100.7,491.8 L101.4,491.1 L102.1,490.4 L102.8,489.7 L103.5,488.9 L104.2,488.2 L104.9,487.5 L105.6,486.8 L106.3,486.0 L106.9,485.3 L107.6,484.5 L108.2,483.8 L108.9,483.0 L109.5,482.2 L110.1,481.4 L110.7,480.6 L111.3,479.8 L111.9,479.0 L112.5,478.2 L113.1,477.4 L113.7,476.6 L114.2,475.8 L114.8,474.9 L115.3,474.1 L115.8,473.2 L116.3,472.4 L116.8,471.5 L117.3,470.6 L117.8,469.7 L118.2,468.8 L118.7,467.9 L119.1,467.0 L119.5,466.1 L119.9,465.2 L120.3,464.3 L120.8,463.4 L121.2,462.5 L121.6,461.6 L122.0,460.7 L122.4,459.8 L122.8,458.8 L123.2,457.9 L123.6,457.0 L124.0,456.1 L124.4,455.2 L124.8,454.3 L125.2,453.3 L125.6,452.4 L126.0,451.5 L126.4,450.6 L126.8,449.7 L127.3,448.8 L127.7,447.9 L128.1,447.0 L128.5,446.1 L129.0,445.2 L129.4,444.3 L129.8,443.4 L130.3,442.5 L130.7,441.6 L131.2,440.7 L131.7,439.8 L132.2,439.0 L132.7,438.1 L133.2,437.2 L133.7,436.4 L134.2,435.5 L134.7,434.7 L135.3,433.9 L135.9,433.1 L136.5,432.3 L137.1,431.5 L137.8,430.7 L138.4,430.0 L139.1,429.3 L139.9,428.6 L140.6,427.9 L141.4,427.3 L142.2,426.7 L143.1,426.3 L144.0,425.9 L144.9,425.5 L145.9,425.2 L146.8,424.9 L147.8,424.5 L148.7,424.2 L149.6,423.8 L150.5,423.4 L151.4,423.0 L152.3,422.5 L153.1,421.9 L153.9,421.3 L154.7,420.7 L155.4,420.0 L156.1,419.3 L156.8,418.6 L157.4,417.8 L158.0,417.0 L158.6,416.2 L159.2,415.4 L159.7,414.5 L160.3,413.7 L160.8,412.8 L161.3,412.0 L161.8,411.1 L162.3,410.2 L162.7,409.3 L163.2,408.4 L163.6,407.5 L164.1,406.6 L164.5,405.7 L164.9,404.8 L165.3,403.9 L165.7,403.0 L166.1,402.1 L166.5,401.2 L166.9,400.3 L167.2,399.3 L167.6,398.4 L167.9,397.4 L168.2,396.5 L168.5,395.5 L168.8,394.6 L169.1,393.6 L169.4,392.7 L169.7,391.7 L170.0,390.8 L170.3,389.8 L170.6,388.9 L170.9,387.9 L171.3,387.0 L171.6,386.0 L171.9,385.1 L172.2,384.1 L172.5,383.2 L172.8,382.2 L173.2,381.3 L173.5,380.3 L173.8,379.4 L174.1,378.4 L174.5,377.5 L174.8,376.6 L175.1,375.6 L175.5,374.7 L175.8,373.7 L176.2,372.8 L176.6,371.9 L176.9,371.0 L177.3,370.0 L177.7,369.1 L178.2,368.2 L178.6,367.3 L179.0,366.4 L179.5,365.5 L179.9,364.6 L180.4,363.7 L180.8,362.8 L181.3,361.9 L181.8,361.1 L182.3,360.3 L183.0,359.6 L183.8,359.0 L184.7,358.6 L185.7,358.5 L186.6,358.7 L187.5,359.1 L188.3,359.7 L189.0,360.4 L189.6,361.2 L190.1,362.0 L190.6,362.9 L191.0,363.8 L191.3,364.8 L191.6,365.7 L191.9,366.7 L192.2,367.6 L192.4,368.6 L192.7,369.6 L192.9,370.5 L193.2,371.5 L193.4,372.5 L193.7,373.4 L193.9,374.4 L194.1,375.4 L194.3,376.4 L194.5,377.4 L194.7,378.3 L194.9,379.3 L195.1,380.3 L195.2,381.3 L195.4,382.3 L195.6,383.2 L195.8,384.2 L195.9,385.2 L196.1,386.2 L196.2,387.2 L196.4,388.2 L196.5,389.2 L196.6,390.2 L196.8,391.2 L196.9,392.1 L197.0,393.1 L197.2,394.1 L197.3,395.1 L197.5,396.1 L197.6,397.1 L197.7,398.1 L197.9,399.1 L198.0,400.1 L198.1,401.1 L198.2,402.0 L198.4,403.0 L198.5,404.0 L198.6,405.0 L198.8,406.0 L198.9,407.0 L199.0,408.0 L199.2,409.0 L199.3,410.0 L199.4,411.0 L199.5,412.0 L199.7,412.9 L199.8,413.9 L199.9,414.9 L200.1,415.9 L200.2,416.9 L200.3,417.9 L200.5,418.9 L200.6,419.9 L200.7,420.9 L200.8,421.9 L201.0,422.9 L201.1,423.8 L201.2,424.8 L201.4,425.8 L201.5,426.8 L201.6,427.8 L201.8,428.8 L201.9,429.8 L202.0,430.8 L202.2,431.8 L202.3,432.8 L202.4,433.7 L202.6,434.7 L202.7,435.7 L202.8,436.7 L203.0,437.7 L203.1,438.7 L203.3,439.7 L203.4,440.7 L203.5,441.7 L203.7,442.7 L203.8,443.6 L204.0,444.6 L204.1,445.6 L204.3,446.6 L204.4,447.6 L204.5,448.6 L204.7,449.6 L204.8,450.6 L205.0,451.6 L205.1,452.5 L205.3,453.5 L205.4,454.5 L205.6,455.5 L205.8,456.5 L205.9,457.5 L206.1,458.5 L206.3,459.4 L206.4,460.4 L206.6,461.4 L206.8,462.4 L207.0,463.4 L207.2,464.4 L207.4,465.3 L207.6,466.3 L207.8,467.3 L208.0,468.3 L208.2,469.2 L208.5,470.2 L208.7,471.2 L208.9,472.2 L209.1,473.1 L209.3,474.1 L209.6,475.1 L209.8,476.1 L210.0,477.0 L210.2,478.0 L210.4,479.0 L210.6,480.0 L210.8,481.0 L211.0,481.9 L211.2,482.9 L211.4,483.9 L211.5,484.9 L211.7,485.9 L211.9,486.8 L212.1,487.8 L212.2,488.8 L212.4,489.8 L212.6,490.8 L212.8,491.8 L213.0,492.7 L213.2,493.7 L213.4,494.7 L213.6,495.7 L213.8,496.6 L214.1,497.6 L214.4,498.6 L214.7,499.5 L215.0,500.5 L215.3,501.4 L215.7,502.3 L216.1,503.3 L216.5,504.2 L217.0,505.1 L217.5,505.9 L218.0,506.8 L218.5,507.6 L219.1,508.4 L219.7,509.2 L220.4,509.9 L221.1,510.7 L221.8,511.3 L222.6,512.0 L223.4,512.6 L224.2,513.1 L225.1,513.6 L226.0,514.1 L226.8,514.6 L227.7,515.0 L228.7,515.4 L229.6,515.8 L230.5,516.2 L231.4,516.5 L232.4,516.8 L233.3,517.1 L234.3,517.4 L235.3,517.7 L236.2,517.9 L237.2,518.2 L238.2,518.4 L239.2,518.6 L240.1,518.8 L241.1,518.9 L242.1,519.1 L243.1,519.2 L244.1,519.3 L245.1,519.5 L246.1,519.6 L247.1,519.7 L248.1,519.7 L249.1,519.8 L250.1,519.9 L251.1,520.0 L252.1,520.0 L253.1,520.1 L254.1,520.2 L255.1,520.2 L256.0,520.3 L257.0,520.3 L258.0,520.4 L259.0,520.4 L260.0,520.5 L261.0,520.6 L262.0,520.6 L263.0,520.6 L264.0,520.7 L265.0,520.7 L266.0,520.7 L267.0,520.8 L268.0,520.8 L269.0,520.8 L270.0,520.8 L271.0,520.8 L272.0,520.9 L273.0,520.9 L274.0,520.9 L275.0,520.9 L276.0,520.9 L277.0,520.9 L278.0,520.9 L279.0,520.9 L280.0,520.9 L281.0,520.9 L282.0,520.9 L283.0,520.9 L284.0,520.9 L285.0,520.9 L286.0,520.9 L287.0,520.9 L288.0,520.9 L289.0,520.9 L290.0,520.9 L291.0,520.9 L292.0,520.8 L293.0,520.8 L294.0,520.8 L295.0,520.8 L296.0,520.8 L297.0,520.8 L298.0,520.8 L299.0,520.8 L300.0,520.8 L301.0,520.8 L302.0,520.8 L303.0,520.8 L304.0,520.8 L305.0,520.8 L306.0,520.8 L307.0,520.8 L308.0,520.8 L309.0,520.8" fill="none" stroke="#e81e25" stroke-width="1.8" stroke-linejoin="round" stroke-linecap="butt"/>
<path d="M42.5,496.8 L43.5,497.0 L44.5,497.2 L45.4,497.4 L46.4,497.6 L47.4,497.8 L48.4,498.0 L49.4,498.2 L50.3,498.3 L51.3,498.5 L52.3,498.6 L53.3,498.8 L54.3,498.9 L55.3,499.0 L56.3,499.1 L57.3,499.2 L58.3,499.3 L59.3,499.4 L60.3,499.5 L61.3,499.6 L62.3,499.7 L63.3,499.7 L64.3,499.8 L65.3,499.8 L66.3,499.9 L67.3,499.9 L68.3,499.9 L69.3,500.0 L70.3,500.0 L71.3,500.0 L72.3,500.0 L73.3,500.0 L74.3,500.0 L75.3,500.0 L76.3,500.0 L77.3,500.0 L78.3,500.0 L79.3,500.0 L80.2,500.0 L81.2,500.0 L82.2,500.0 L83.2,500.0 L84.2,500.0 L85.2,499.9 L86.2,499.9 L87.2,499.8 L88.2,499.7 L89.2,499.5 L90.2,499.4 L91.2,499.3 L92.2,499.1 L93.2,499.0 L94.2,498.8 L95.2,498.6 L96.1,498.4 L97.1,498.2 L98.1,498.0 L99.1,497.7 L100.0,497.5 L101.0,497.2 L101.9,496.9 L102.9,496.6 L103.8,496.3 L104.8,496.0 L105.7,495.6 L106.7,495.3 L107.6,494.9 L108.5,494.5 L109.4,494.2 L110.4,493.8 L111.3,493.4 L112.2,493.0 L113.1,492.6 L114.0,492.1 L114.9,491.7 L115.8,491.3 L116.7,490.8 L117.6,490.3 L118.4,489.8 L119.3,489.3 L120.2,488.8 L121.0,488.3 L121.9,487.8 L122.8,487.3 L123.6,486.8 L124.5,486.3 L125.3,485.8 L126.2,485.2 L127.0,484.7 L127.9,484.2 L128.7,483.7 L129.6,483.2 L130.4,482.6 L131.3,482.1 L132.1,481.6 L133.0,481.0 L133.8,480.5 L134.6,479.9 L135.4,479.3 L136.2,478.7 L137.0,478.0 L137.8,477.4 L138.6,476.8 L139.4,476.3 L140.3,475.8 L141.2,475.4 L142.1,475.0 L143.1,474.7 L144.0,474.4 L145.0,474.2 L145.9,473.9 L146.9,473.6 L147.9,473.3 L148.8,473.1 L149.8,472.8 L150.8,472.6 L151.7,472.3 L152.7,472.0 L153.6,471.7 L154.6,471.4 L155.5,471.1 L156.5,470.7 L157.4,470.4 L158.3,470.0 L159.2,469.6 L160.1,469.1 L161.0,468.6 L161.8,468.0 L162.5,467.4 L163.2,466.7 L163.9,466.0 L164.6,465.2 L165.3,464.5 L165.9,463.7 L166.6,463.0 L167.3,462.2 L167.9,461.5 L168.6,460.7 L169.2,459.9 L169.8,459.1 L170.4,458.4 L171.0,457.6 L171.6,456.8 L172.2,455.9 L172.8,455.1 L173.4,454.3 L174.0,453.5 L174.6,452.7 L175.2,452.0 L175.9,451.2 L176.6,450.5 L177.3,449.8 L178.0,449.1 L178.8,448.5 L179.5,447.8 L180.3,447.2 L181.1,446.5 L181.9,445.9 L182.7,445.3 L183.5,444.8 L184.4,444.4 L185.4,444.1 L186.4,444.0 L187.3,444.0 L188.3,444.2 L189.2,444.6 L190.0,445.2 L190.6,446.0 L191.2,446.8 L191.7,447.6 L192.2,448.5 L192.8,449.3 L193.3,450.2 L193.8,451.0 L194.3,451.9 L194.8,452.8 L195.2,453.7 L195.6,454.6 L196.0,455.5 L196.4,456.5 L196.7,457.4 L197.1,458.3 L197.4,459.3 L197.7,460.2 L198.0,461.2 L198.3,462.1 L198.6,463.1 L198.9,464.0 L199.2,465.0 L199.5,466.0 L199.8,466.9 L200.1,467.9 L200.4,468.8 L200.7,469.8 L201.0,470.7 L201.3,471.7 L201.7,472.6 L202.0,473.5 L202.3,474.5 L202.7,475.4 L203.0,476.4 L203.4,477.3 L203.7,478.2 L204.1,479.2 L204.5,480.1 L204.8,481.0 L205.2,482.0 L205.5,482.9 L205.9,483.8 L206.2,484.8 L206.6,485.7 L206.9,486.6 L207.3,487.6 L207.6,488.5 L207.9,489.5 L208.3,490.4 L208.6,491.4 L208.9,492.3 L209.2,493.2 L209.6,494.2 L209.9,495.1 L210.3,496.1 L210.6,497.0 L211.0,497.9 L211.3,498.9 L211.7,499.8 L212.0,500.7 L212.3,501.7 L212.7,502.6 L213.0,503.6 L213.3,504.5 L213.7,505.4 L214.1,506.4 L214.5,507.3 L214.9,508.2 L215.4,509.1 L215.9,509.9 L216.5,510.7 L217.1,511.5 L217.8,512.3 L218.5,513.0 L219.2,513.6 L220.0,514.3 L220.8,514.9 L221.6,515.5 L222.4,516.1 L223.2,516.6 L224.1,517.1 L225.0,517.6 L225.9,518.0 L226.8,518.4 L227.8,518.7 L228.7,519.0 L229.7,519.3 L230.6,519.6 L231.6,519.9 L232.5,520.2 L233.5,520.4 L234.5,520.7 L235.4,520.9 L236.4,521.2 L237.4,521.4 L238.4,521.6 L239.3,521.8 L240.3,522.0 L241.3,522.2 L242.3,522.4 L243.3,522.5 L244.3,522.7 L245.2,522.8 L246.2,523.0 L247.2,523.1 L248.2,523.2 L249.2,523.4 L250.2,523.5 L251.2,523.6 L252.2,523.7 L253.2,523.8 L254.2,523.9 L255.2,524.0 L256.2,524.1 L257.2,524.2 L258.2,524.3 L259.2,524.3 L260.2,524.4 L261.1,524.5 L262.1,524.6 L263.1,524.7 L264.1,524.8 L265.1,524.8 L266.1,524.9 L267.1,525.0 L268.1,525.1 L269.1,525.2 L270.1,525.3 L271.1,525.4 L272.1,525.4 L273.1,525.5 L274.1,525.6 L275.1,525.7 L276.1,525.8 L277.1,525.8 L278.1,525.9 L279.1,526.0 L280.1,526.0 L281.1,526.1 L282.1,526.2 L283.1,526.2 L284.1,526.3 L285.1,526.3 L286.1,526.3 L287.1,526.4 L288.1,526.4 L289.1,526.4 L290.1,526.4 L291.1,526.4 L292.1,526.5 L293.1,526.5 L294.1,526.5 L295.1,526.4 L296.1,526.4 L297.1,526.4 L298.1,526.4 L299.1,526.3 L300.1,526.3 L301.1,526.2 L302.1,526.1 L303.0,526.0 L304.0,525.9 L305.0,525.8 L306.0,525.7 L307.0,525.5 L308.0,525.4 L309.0,525.3" fill="none" stroke="#8c8c1a" stroke-width="1.8" stroke-linejoin="round" stroke-linecap="butt"/>
<path d="M42.5,505.0 L43.5,505.0 L44.5,505.0 L45.5,505.0 L46.5,505.0 L47.5,505.1 L48.5,505.1 L49.5,505.1 L50.5,505.2 L51.5,505.2 L52.5,505.2 L53.5,505.2 L54.5,505.3 L55.5,505.3 L56.5,505.3 L57.5,505.3 L58.5,505.3 L59.5,505.3 L60.5,505.3 L61.5,505.3 L62.5,505.2 L63.5,505.1 L64.4,504.8 L65.3,504.3 L66.1,503.9 L67.1,503.7 L68.1,503.6 L69.1,503.6 L70.1,503.6 L71.1,503.6 L72.1,503.6 L73.1,503.6 L74.1,503.6 L75.1,503.6 L76.1,503.6 L77.1,503.6 L78.1,503.5 L79.1,503.4 L80.0,503.3 L81.0,503.1 L82.0,502.9 L83.0,502.7 L83.9,502.5 L84.9,502.2 L85.9,502.0 L86.9,501.8 L87.8,501.5 L88.8,501.3 L89.8,501.0 L90.7,500.8 L91.7,500.6 L92.7,500.3 L93.6,500.0 L94.6,499.7 L95.6,499.5 L96.5,499.2 L97.5,498.8 L98.4,498.5 L99.3,498.2 L100.3,497.8 L101.2,497.4 L102.1,497.0 L103.0,496.6 L103.9,496.2 L104.8,495.7 L105.7,495.3 L106.6,494.9 L107.5,494.4 L108.4,493.9 L109.3,493.5 L110.1,493.0 L111.0,492.5 L111.9,492.0 L112.8,491.5 L113.6,491.0 L114.5,490.5 L115.3,490.0 L116.2,489.4 L117.0,488.9 L117.8,488.3 L118.6,487.7 L119.4,487.1 L120.2,486.5 L120.9,485.8 L121.7,485.2 L122.4,484.5 L123.1,483.8 L123.9,483.1 L124.7,482.5 L125.4,481.9 L126.2,481.3 L127.0,480.6 L127.8,480.0 L128.6,479.5 L129.4,478.9 L130.3,478.3 L131.1,477.8 L131.9,477.2 L132.8,476.7 L133.6,476.2 L134.5,475.7 L135.3,475.1 L136.2,474.6 L137.0,474.1 L137.9,473.5 L138.7,472.9 L139.5,472.4 L140.3,471.9 L141.2,471.4 L142.1,471.0 L143.1,470.6 L144.0,470.3 L145.0,470.0 L145.9,469.7 L146.9,469.5 L147.9,469.3 L148.9,469.1 L149.8,468.9 L150.8,468.8 L151.8,468.5 L152.8,468.3 L153.7,468.0 L154.7,467.7 L155.6,467.4 L156.5,467.0 L157.5,466.6 L158.4,466.2 L159.2,465.7 L160.1,465.2 L160.9,464.6 L161.7,464.0 L162.4,463.3 L163.2,462.7 L163.9,462.0 L164.6,461.2 L165.3,460.5 L165.9,459.8 L166.6,459.0 L167.2,458.2 L167.8,457.4 L168.4,456.6 L169.0,455.8 L169.5,455.0 L170.0,454.1 L170.6,453.3 L171.1,452.4 L171.6,451.5 L172.1,450.7 L172.5,449.8 L173.0,448.9 L173.5,448.0 L174.0,447.2 L174.5,446.3 L175.0,445.4 L175.5,444.6 L176.0,443.7 L176.5,442.8 L176.9,442.0 L177.4,441.1 L177.9,440.2 L178.5,439.4 L179.0,438.6 L179.6,437.8 L180.3,437.0 L180.9,436.3 L181.7,435.6 L182.4,434.9 L183.2,434.3 L184.0,433.8 L184.9,433.3 L185.9,433.1 L186.9,433.1 L187.8,433.3 L188.7,433.6 L189.6,434.1 L190.4,434.8 L191.1,435.5 L191.7,436.3 L192.2,437.1 L192.6,438.0 L193.1,438.9 L193.5,439.8 L193.9,440.7 L194.2,441.7 L194.6,442.6 L194.9,443.6 L195.2,444.5 L195.5,445.5 L195.7,446.4 L196.0,447.4 L196.3,448.3 L196.7,449.3 L197.0,450.2 L197.3,451.2 L197.7,452.1 L198.1,453.0 L198.5,453.9 L198.8,454.9 L199.2,455.8 L199.6,456.7 L200.0,457.6 L200.3,458.6 L200.7,459.5 L201.1,460.4 L201.4,461.4 L201.8,462.3 L202.1,463.2 L202.4,464.2 L202.8,465.1 L203.1,466.1 L203.4,467.0 L203.7,468.0 L204.1,468.9 L204.4,469.9 L204.7,470.8 L205.0,471.8 L205.3,472.7 L205.6,473.7 L205.9,474.6 L206.2,475.6 L206.5,476.5 L206.8,477.5 L207.1,478.4 L207.3,479.4 L207.6,480.4 L207.9,481.3 L208.1,482.3 L208.4,483.2 L208.6,484.2 L208.9,485.2 L209.1,486.1 L209.4,487.1 L209.6,488.1 L209.9,489.0 L210.2,490.0 L210.4,491.0 L210.7,491.9 L210.9,492.9 L211.2,493.9 L211.5,494.8 L211.8,495.8 L212.1,496.7 L212.4,497.7 L212.7,498.6 L213.1,499.6 L213.4,500.5 L213.8,501.4 L214.2,502.3 L214.6,503.2 L215.1,504.1 L215.6,505.0 L216.1,505.9 L216.6,506.7 L217.2,507.5 L217.8,508.3 L218.4,509.1 L219.0,509.9 L219.7,510.6 L220.4,511.3 L221.1,512.0 L221.9,512.7 L222.7,513.3 L223.5,513.8 L224.3,514.4 L225.2,514.9 L226.1,515.3 L227.0,515.8 L227.9,516.1 L228.9,516.5 L229.8,516.8 L230.8,517.1 L231.7,517.3 L232.7,517.6 L233.7,517.8 L234.6,518.0 L235.6,518.2 L236.6,518.3 L237.6,518.5 L238.6,518.6 L239.6,518.7 L240.6,518.8 L241.6,518.9 L242.6,519.0 L243.6,519.0 L244.6,519.1 L245.6,519.2 L246.6,519.2 L247.6,519.2 L248.6,519.3 L249.6,519.3 L250.6,519.3 L251.6,519.4 L252.6,519.4 L253.6,519.4 L254.6,519.4 L255.6,519.5 L256.6,519.5 L257.5,519.5 L258.5,519.6 L259.5,519.6 L260.5,519.6 L261.5,519.6 L262.5,519.7 L263.5,519.7 L264.5,519.7 L265.5,519.7 L266.5,519.8 L267.5,519.8 L268.5,519.8 L269.5,519.8 L270.5,519.8 L271.5,519.8 L272.5,519.8 L273.5,519.8 L274.5,519.9 L275.5,519.9 L276.5,519.9 L277.5,519.9 L278.5,519.9 L279.5,519.9 L280.5,519.9 L281.5,519.9 L282.5,519.9 L283.5,519.9 L284.5,519.9 L285.5,519.9 L286.5,519.9 L287.5,519.9 L288.5,519.9 L289.5,519.9 L290.5,519.9 L291.5,519.9 L292.5,519.9 L293.5,519.9 L294.5,519.9 L295.5,519.9 L296.5,519.9 L297.5,519.9 L298.5,519.9 L299.5,519.9 L300.5,520.0 L301.5,520.0 L302.5,520.0 L303.5,520.0 L304.5,520.0 L305.5,520.0 L306.5,520.0 L307.5,520.0 L308.5,520.0" fill="none" stroke="#8a1a96" stroke-width="1.8" stroke-linejoin="round" stroke-linecap="butt"/>
<path d="M42.5,510.7 L43.5,510.7 L44.5,510.7 L45.5,510.7 L46.5,510.7 L47.5,510.7 L48.5,510.7 L49.5,510.7 L50.5,510.7 L51.5,510.7 L52.5,510.7 L53.5,510.7 L54.5,510.7 L55.5,510.7 L56.5,510.7 L57.5,510.7 L58.5,510.6 L59.5,510.6 L60.5,510.6 L61.5,510.6 L62.5,510.5 L63.5,510.5 L64.5,510.4 L65.5,510.4 L66.5,510.3 L67.5,510.3 L68.5,510.2 L69.5,510.1 L70.5,509.9 L71.5,509.8 L72.4,509.7 L73.4,509.5 L74.4,509.3 L75.4,509.2 L76.4,508.9 L77.3,508.7 L78.3,508.5 L79.3,508.2 L80.2,507.9 L81.2,507.6 L82.1,507.3 L83.1,506.9 L84.0,506.5 L84.8,506.0 L85.7,505.5 L86.5,504.9 L87.3,504.3 L88.1,503.7 L88.9,503.1 L89.8,502.7 L90.7,502.3 L91.6,501.9 L92.5,501.5 L93.5,501.2 L94.4,500.8 L95.3,500.5 L96.3,500.1 L97.2,499.7 L98.1,499.3 L99.0,498.9 L99.9,498.4 L100.8,497.9 L101.6,497.4 L102.5,496.9 L103.3,496.4 L104.2,495.8 L105.0,495.3 L105.8,494.7 L106.7,494.2 L107.5,493.6 L108.3,493.0 L109.1,492.4 L109.9,491.8 L110.6,491.1 L111.4,490.5 L112.2,489.8 L112.9,489.2 L113.6,488.5 L114.4,487.8 L115.1,487.1 L115.7,486.4 L116.4,485.6 L117.1,484.9 L117.7,484.1 L118.3,483.3 L119.0,482.5 L119.6,481.7 L120.2,480.9 L120.7,480.1 L121.3,479.3 L121.8,478.5 L122.4,477.6 L122.9,476.8 L123.5,475.9 L124.0,475.1 L124.6,474.3 L125.1,473.4 L125.6,472.6 L126.2,471.7 L126.7,470.9 L127.2,470.0 L127.8,469.2 L128.3,468.3 L128.8,467.5 L129.4,466.7 L129.9,465.8 L130.4,465.0 L130.9,464.1 L131.5,463.3 L132.0,462.4 L132.6,461.6 L133.1,460.8 L133.7,460.0 L134.4,459.2 L135.0,458.4 L135.7,457.7 L136.4,457.0 L137.1,456.3 L137.8,455.6 L138.6,455.0 L139.4,454.4 L140.3,453.9 L141.2,453.5 L142.1,453.1 L143.1,452.9 L144.0,452.6 L145.0,452.4 L146.0,452.1 L146.9,451.9 L147.9,451.6 L148.9,451.4 L149.8,451.1 L150.8,450.8 L151.8,450.5 L152.7,450.1 L153.6,449.7 L154.4,449.1 L155.2,448.6 L156.0,448.0 L156.8,447.3 L157.5,446.6 L158.2,445.9 L158.9,445.2 L159.6,444.5 L160.2,443.7 L160.9,442.9 L161.5,442.1 L162.1,441.4 L162.7,440.6 L163.3,439.8 L164.0,439.1 L164.6,438.3 L165.2,437.5 L165.8,436.7 L166.3,435.8 L166.8,434.9 L167.3,434.1 L167.8,433.2 L168.3,432.3 L168.7,431.4 L169.2,430.5 L169.7,429.7 L170.1,428.8 L170.6,427.9 L171.0,427.0 L171.4,426.1 L171.9,425.2 L172.3,424.3 L172.7,423.4 L173.1,422.5 L173.5,421.5 L173.9,420.6 L174.3,419.7 L174.7,418.8 L175.1,417.9 L175.5,417.0 L175.9,416.1 L176.3,415.1 L176.7,414.2 L177.1,413.3 L177.5,412.4 L177.8,411.4 L178.2,410.5 L178.6,409.6 L179.0,408.7 L179.4,407.8 L179.9,406.9 L180.4,406.0 L180.9,405.2 L181.5,404.4 L182.1,403.5 L182.7,402.8 L183.4,402.1 L184.3,401.5 L185.2,401.2 L186.1,401.1 L187.1,401.2 L188.0,401.6 L188.8,402.2 L189.5,402.9 L190.1,403.6 L190.7,404.5 L191.2,405.3 L191.6,406.2 L192.0,407.1 L192.4,408.1 L192.8,409.0 L193.1,409.9 L193.4,410.9 L193.7,411.8 L194.0,412.8 L194.3,413.8 L194.5,414.7 L194.7,415.7 L195.0,416.7 L195.2,417.7 L195.4,418.6 L195.6,419.6 L195.8,420.6 L196.0,421.6 L196.2,422.6 L196.4,423.5 L196.6,424.5 L196.8,425.5 L196.9,426.5 L197.1,427.5 L197.3,428.4 L197.5,429.4 L197.6,430.4 L197.8,431.4 L197.9,432.4 L198.1,433.4 L198.3,434.4 L198.4,435.3 L198.6,436.3 L198.8,437.3 L199.0,438.3 L199.2,439.3 L199.3,440.3 L199.5,441.2 L199.7,442.2 L199.9,443.2 L200.1,444.2 L200.3,445.2 L200.5,446.1 L200.7,447.1 L200.9,448.1 L201.1,449.1 L201.3,450.1 L201.6,451.0 L201.8,452.0 L202.0,453.0 L202.2,454.0 L202.4,454.9 L202.6,455.9 L202.8,456.9 L203.0,457.9 L203.2,458.8 L203.5,459.8 L203.7,460.8 L203.9,461.8 L204.1,462.7 L204.4,463.7 L204.6,464.7 L204.8,465.7 L205.1,466.6 L205.3,467.6 L205.5,468.6 L205.8,469.5 L206.0,470.5 L206.3,471.5 L206.5,472.5 L206.8,473.4 L207.0,474.4 L207.2,475.4 L207.5,476.3 L207.7,477.3 L207.9,478.3 L208.2,479.3 L208.4,480.2 L208.6,481.2 L208.8,482.2 L209.0,483.2 L209.1,484.2 L209.3,485.1 L209.5,486.1 L209.7,487.1 L209.8,488.1 L210.0,489.1 L210.2,490.1 L210.4,491.0 L210.6,492.0 L210.8,493.0 L211.0,494.0 L211.2,495.0 L211.4,495.9 L211.7,496.9 L212.0,497.8 L212.3,498.8 L212.6,499.7 L213.0,500.7 L213.4,501.6 L213.8,502.5 L214.2,503.4 L214.7,504.3 L215.2,505.2 L215.7,506.0 L216.2,506.8 L216.8,507.7 L217.4,508.4 L218.1,509.2 L218.8,509.9 L219.5,510.6 L220.3,511.2 L221.1,511.8 L221.9,512.3 L222.8,512.8 L223.7,513.3 L224.6,513.7 L225.5,514.1 L226.4,514.5 L227.4,514.9 L228.3,515.2 L229.3,515.5 L230.2,515.7 L231.2,516.0 L232.2,516.2 L233.2,516.4 L234.1,516.6 L235.1,516.8 L236.1,516.9 L237.1,517.1 L238.1,517.3 L239.1,517.4 L240.1,517.5 L241.1,517.6 L242.0,517.7 L243.0,517.8 L244.0,517.8 L245.0,517.9 L246.0,518.0 L247.0,518.0 L248.0,518.1 L249.0,518.1 L250.0,518.1 L251.0,518.2 L252.0,518.2 L253.0,518.2 L254.0,518.2 L255.0,518.2 L256.0,518.2 L257.0,518.3 L258.0,518.3 L259.0,518.3 L260.0,518.3 L261.0,518.3 L262.0,518.3 L263.0,518.3 L264.0,518.3 L265.0,518.4 L266.0,518.4 L267.0,518.4 L268.0,518.4 L269.0,518.4 L270.0,518.4 L271.0,518.4 L272.0,518.4 L273.0,518.4 L274.0,518.4 L275.0,518.4 L276.0,518.4 L277.0,518.4 L278.0,518.4 L279.0,518.4 L280.0,518.4 L281.0,518.4 L282.0,518.4 L283.0,518.4 L284.0,518.4 L285.0,518.4 L286.0,518.4 L287.0,518.5 L288.0,518.5 L289.0,518.5 L290.0,518.5 L291.0,518.5 L292.0,518.5 L293.0,518.5 L294.0,518.5 L295.0,518.5 L296.0,518.5 L297.0,518.5 L298.0,518.5 L299.0,518.5 L300.0,518.5 L301.0,518.5 L302.0,518.5 L303.0,518.5 L304.0,518.5 L305.0,518.5 L306.0,518.5 L307.0,518.5 L308.0,518.5 L309.0,518.5" fill="none" stroke="#1a1ad8" stroke-width="1.8" stroke-linejoin="round" stroke-linecap="butt"/>
<path d="M42.5,513.8 L43.5,513.8 L44.5,513.8 L45.5,513.8 L46.5,513.8 L47.5,513.8 L48.5,513.8 L49.5,513.8 L50.5,513.7 L51.5,513.7 L52.5,513.7 L53.5,513.7 L54.5,513.6 L55.5,513.6 L56.5,513.5 L57.5,513.4 L58.5,513.3 L59.5,513.3 L60.5,513.1 L61.5,513.0 L62.5,512.9 L63.4,512.8 L64.4,512.6 L65.4,512.4 L66.4,512.2 L67.4,512.0 L68.4,511.8 L69.3,511.6 L70.3,511.4 L71.3,511.1 L72.2,510.8 L73.2,510.5 L74.1,510.2 L75.0,509.8 L76.0,509.4 L76.9,509.0 L77.8,508.6 L78.6,508.1 L79.5,507.6 L80.4,507.1 L81.2,506.5 L82.0,506.0 L82.8,505.4 L83.6,504.8 L84.4,504.2 L85.2,503.5 L85.9,502.9 L86.7,502.2 L87.4,501.5 L88.1,500.8 L88.8,500.1 L89.5,499.4 L90.2,498.7 L90.9,498.0 L91.6,497.3 L92.3,496.5 L93.0,495.8 L93.7,495.1 L94.4,494.3 L95.0,493.6 L95.6,492.8 L96.3,492.0 L96.9,491.2 L97.5,490.4 L98.1,489.6 L98.7,488.9 L99.4,488.1 L100.1,487.4 L100.7,486.6 L101.4,485.9 L102.0,485.1 L102.7,484.3 L103.3,483.6 L103.9,482.8 L104.5,482.0 L105.1,481.1 L105.6,480.3 L106.2,479.5 L106.7,478.6 L107.2,477.8 L107.7,476.9 L108.3,476.1 L108.8,475.2 L109.2,474.3 L109.7,473.5 L110.2,472.6 L110.7,471.7 L111.2,470.8 L111.6,470.0 L112.1,469.1 L112.6,468.2 L113.0,467.3 L113.5,466.4 L113.9,465.5 L114.3,464.6 L114.8,463.7 L115.2,462.8 L115.6,461.9 L116.0,461.0 L116.4,460.1 L116.8,459.1 L117.2,458.2 L117.6,457.3 L118.0,456.4 L118.3,455.4 L118.7,454.5 L119.1,453.6 L119.5,452.7 L119.8,451.7 L120.2,450.8 L120.6,449.9 L121.0,449.0 L121.5,448.1 L121.9,447.2 L122.3,446.3 L122.8,445.4 L123.2,444.5 L123.6,443.6 L124.0,442.7 L124.4,441.7 L124.8,440.8 L125.1,439.9 L125.5,438.9 L125.7,438.0 L126.0,437.0 L126.3,436.0 L126.5,435.1 L126.8,434.1 L127.0,433.1 L127.3,432.2 L127.5,431.2 L127.7,430.2 L127.9,429.2 L128.2,428.3 L128.4,427.3 L128.7,426.3 L128.9,425.4 L129.2,424.4 L129.4,423.4 L129.7,422.5 L129.9,421.5 L130.2,420.5 L130.4,419.6 L130.7,418.6 L131.0,417.6 L131.2,416.7 L131.5,415.7 L131.8,414.8 L132.1,413.8 L132.4,412.9 L132.7,411.9 L133.1,411.0 L133.4,410.0 L133.8,409.1 L134.1,408.2 L134.5,407.2 L134.9,406.3 L135.3,405.4 L135.7,404.5 L136.1,403.6 L136.6,402.7 L137.1,401.8 L137.6,400.9 L138.1,400.1 L138.6,399.3 L139.2,398.5 L139.9,397.7 L140.6,397.1 L141.4,396.5 L142.3,395.9 L143.2,395.5 L144.1,395.2 L145.1,395.0 L146.1,394.9 L147.1,394.9 L148.1,394.8 L149.0,394.5 L150.0,394.2 L150.9,393.9 L151.8,393.5 L152.8,393.1 L153.7,392.7 L154.5,392.2 L155.4,391.6 L156.1,391.0 L156.8,390.2 L157.4,389.5 L158.0,388.7 L158.6,387.9 L159.1,387.0 L159.6,386.2 L160.1,385.3 L160.5,384.4 L160.9,383.4 L161.3,382.5 L161.6,381.6 L162.0,380.6 L162.3,379.7 L162.6,378.8 L163.0,377.8 L163.3,376.9 L163.6,375.9 L163.9,375.0 L164.2,374.0 L164.5,373.1 L164.8,372.1 L165.1,371.1 L165.3,370.2 L165.6,369.2 L165.9,368.3 L166.2,367.3 L166.4,366.3 L166.7,365.4 L166.9,364.4 L167.2,363.4 L167.5,362.5 L167.7,361.5 L168.0,360.5 L168.3,359.6 L168.5,358.6 L168.8,357.7 L169.1,356.7 L169.3,355.7 L169.6,354.8 L169.8,353.8 L170.1,352.8 L170.4,351.9 L170.6,350.9 L170.9,349.9 L171.2,349.0 L171.5,348.0 L171.7,347.1 L172.0,346.1 L172.3,345.1 L172.6,344.2 L172.9,343.2 L173.1,342.3 L173.4,341.3 L173.6,340.3 L173.8,339.3 L174.0,338.4 L174.3,337.4 L174.5,336.4 L174.7,335.4 L174.9,334.5 L175.1,333.5 L175.3,332.5 L175.5,331.5 L175.8,330.6 L176.0,329.6 L176.2,328.6 L176.4,327.6 L176.6,326.7 L176.9,325.7 L177.1,324.7 L177.3,323.7 L177.5,322.8 L177.8,321.8 L178.0,320.8 L178.3,319.8 L178.5,318.9 L178.8,317.9 L179.0,317.0 L179.3,316.0 L179.6,315.0 L180.0,314.1 L180.3,313.1 L180.6,312.2 L180.9,311.3 L181.3,310.3 L181.6,309.4 L182.0,308.5 L182.5,307.6 L183.0,306.7 L183.5,305.9 L184.1,305.1 L184.7,304.3 L185.4,303.6 L186.3,303.3 L187.2,303.3 L188.0,303.7 L188.8,304.3 L189.5,305.0 L190.0,305.9 L190.5,306.7 L190.9,307.7 L191.2,308.6 L191.5,309.6 L191.8,310.5 L192.0,311.5 L192.3,312.5 L192.5,313.4 L192.7,314.4 L192.9,315.4 L193.1,316.4 L193.3,317.3 L193.5,318.3 L193.6,319.3 L193.8,320.3 L193.9,321.3 L194.1,322.3 L194.2,323.3 L194.4,324.3 L194.5,325.2 L194.6,326.2 L194.8,327.2 L194.9,328.2 L195.0,329.2 L195.2,330.2 L195.3,331.2 L195.4,332.2 L195.5,333.2 L195.6,334.2 L195.7,335.2 L195.8,336.2 L195.9,337.2 L196.0,338.2 L196.1,339.1 L196.1,340.1 L196.2,341.1 L196.3,342.1 L196.3,343.1 L196.4,344.1 L196.4,345.1 L196.5,346.1 L196.5,347.1 L196.6,348.1 L196.7,349.1 L196.7,350.1 L196.8,351.1 L196.9,352.1 L197.0,353.1 L197.1,354.1 L197.2,355.1 L197.3,356.1 L197.4,357.1 L197.5,358.1 L197.6,359.1 L197.7,360.1 L197.8,361.1 L197.9,362.1 L198.0,363.1 L198.1,364.0 L198.2,365.0 L198.3,366.0 L198.4,367.0 L198.5,368.0 L198.6,369.0 L198.7,370.0 L198.8,371.0 L198.9,372.0 L199.0,373.0 L199.1,374.0 L199.2,375.0 L199.3,376.0 L199.4,377.0 L199.5,378.0 L199.6,379.0 L199.7,380.0 L199.8,381.0 L199.9,382.0 L200.0,382.9 L200.1,383.9 L200.2,384.9 L200.3,385.9 L200.4,386.9 L200.4,387.9 L200.5,388.9 L200.6,389.9 L200.7,390.9 L200.8,391.9 L200.9,392.9 L201.0,393.9 L201.1,394.9 L201.2,395.9 L201.3,396.9 L201.4,397.9 L201.5,398.9 L201.6,399.9 L201.8,400.9 L201.9,401.8 L202.0,402.8 L202.1,403.8 L202.2,404.8 L202.3,405.8 L202.5,406.8 L202.6,407.8 L202.7,408.8 L202.8,409.8 L202.9,410.8 L203.1,411.8 L203.2,412.8 L203.3,413.8 L203.4,414.7 L203.6,415.7 L203.7,416.7 L203.8,417.7 L203.9,418.7 L204.1,419.7 L204.2,420.7 L204.3,421.7 L204.4,422.7 L204.6,423.7 L204.7,424.7 L204.8,425.7 L204.9,426.6 L205.1,427.6 L205.2,428.6 L205.3,429.6 L205.4,430.6 L205.6,431.6 L205.7,432.6 L205.8,433.6 L206.0,434.6 L206.1,435.6 L206.2,436.6 L206.4,437.5 L206.5,438.5 L206.6,439.5 L206.8,440.5 L206.9,441.5 L207.0,442.5 L207.2,443.5 L207.3,444.5 L207.4,445.5 L207.6,446.5 L207.7,447.5 L207.9,448.4 L208.0,449.4 L208.1,450.4 L208.3,451.4 L208.4,452.4 L208.6,453.4 L208.7,454.4 L208.9,455.4 L209.0,456.4 L209.2,457.3 L209.4,458.3 L209.5,459.3 L209.7,460.3 L209.9,461.3 L210.1,462.3 L210.3,463.2 L210.5,464.2 L210.7,465.2 L210.9,466.2 L211.1,467.2 L211.3,468.1 L211.5,469.1 L211.7,470.1 L212.0,471.1 L212.2,472.0 L212.4,473.0 L212.6,474.0 L212.9,474.9 L213.1,475.9 L213.3,476.9 L213.5,477.9 L213.8,478.8 L214.0,479.8 L214.2,480.8 L214.4,481.8 L214.6,482.8 L214.8,483.7 L215.0,484.7 L215.2,485.7 L215.4,486.7 L215.6,487.7 L215.7,488.6 L215.9,489.6 L216.1,490.6 L216.3,491.6 L216.5,492.6 L216.7,493.5 L217.0,494.5 L217.2,495.5 L217.4,496.5 L217.7,497.4 L217.9,498.4 L218.2,499.4 L218.5,500.3 L218.8,501.2 L219.2,502.2 L219.6,503.1 L220.0,504.0 L220.4,504.9 L220.9,505.8 L221.3,506.7 L221.8,507.6 L222.2,508.5 L222.7,509.4 L223.1,510.3 L223.6,511.2 L224.1,512.0 L224.6,512.9 L225.2,513.7 L225.8,514.4 L226.6,515.1 L227.4,515.7 L228.3,516.2 L229.1,516.6 L230.1,517.0 L231.0,517.4 L232.0,517.7 L232.9,518.0 L233.9,518.3 L234.8,518.5 L235.8,518.8 L236.7,519.1 L237.7,519.4 L238.7,519.6 L239.6,519.9 L240.6,520.1 L241.6,520.3 L242.6,520.4 L243.6,520.6 L244.6,520.7 L245.5,520.9 L246.5,521.0 L247.5,521.1 L248.5,521.1 L249.5,521.2 L250.5,521.2 L251.5,521.3 L252.5,521.3 L253.5,521.3 L254.5,521.4 L255.5,521.4 L256.5,521.4 L257.5,521.4 L258.5,521.5 L259.5,521.5 L260.5,521.5 L261.5,521.5 L262.5,521.6 L263.5,521.6 L264.5,521.6 L265.5,521.6 L266.5,521.6 L267.5,521.7 L268.5,521.7 L269.5,521.7 L270.5,521.7 L271.5,521.7 L272.5,521.7 L273.5,521.7 L274.5,521.7 L275.5,521.8 L276.5,521.8 L277.5,521.8 L278.5,521.8 L279.5,521.8 L280.5,521.8 L281.5,521.8 L282.5,521.8 L283.5,521.8 L284.5,521.8 L285.5,521.8 L286.5,521.8 L287.5,521.8 L288.5,521.9 L289.5,521.9 L290.5,521.9 L291.5,521.9 L292.5,521.9 L293.5,521.9 L294.5,521.9 L295.5,521.9 L296.5,521.9 L297.5,521.9 L298.5,521.9 L299.5,521.9 L300.5,521.9 L301.5,521.9 L302.5,521.9 L303.5,522.0 L304.5,522.0 L305.5,522.0 L306.5,522.0 L307.5,522.0 L308.5,522.0" fill="none" stroke="#f58a18" stroke-width="1.55" stroke-linejoin="round" stroke-linecap="butt"/>
<line x1="186.5" y1="302.6" x2="221.5" y2="302.7" stroke="#111" stroke-width="1.1"/>
<path d="M224.8,302.7 L221.0,301.2 L221.0,304.2 Z" fill="#111"/>
<line x1="187.2" y1="343.5" x2="223.89999999999998" y2="343.5" stroke="#111" stroke-width="1.1"/>
<path d="M227.2,343.5 L223.39999999999998,342.0 L223.39999999999998,345.0 Z" fill="#111"/>
<line x1="186.2" y1="359.2" x2="221.0" y2="359.5" stroke="#111" stroke-width="1.1"/>
<path d="M224.3,359.5 L220.5,358.0 L220.5,361.0 Z" fill="#111"/>
<line x1="187.0" y1="401.2" x2="224.79999999999998" y2="401.3" stroke="#111" stroke-width="1.1"/>
<path d="M228.1,401.3 L224.29999999999998,399.8 L224.29999999999998,402.8 Z" fill="#111"/>
<line x1="185.9" y1="432.8" x2="227.6" y2="432.6" stroke="#111" stroke-width="1.1"/>
<path d="M230.9,432.6 L227.1,431.1 L227.1,434.1 Z" fill="#111"/>
<line x1="184.8" y1="444.1" x2="227.6" y2="444.3" stroke="#111" stroke-width="1.1"/>
<path d="M230.9,444.3 L227.1,442.8 L227.1,445.8 Z" fill="#111"/>
<text x="234.3" y="348.6" font-size="9.4" font-weight="bold" fill="#111" textLength="46.0" lengthAdjust="spacing">0% Fe:TiO</text>
<text x="279.7" y="350.7" font-size="6.0" font-weight="bold" fill="#111">2</text>
<text x="236.0" y="361.6" font-size="9.4" font-weight="bold" fill="#111" textLength="50.7" lengthAdjust="spacing">0.1%Fe:TiO</text>
<text x="286.5" y="364.4" font-size="6.0" font-weight="bold" fill="#111">2</text>
<text x="237.9" y="403.0" font-size="9.4" font-weight="bold" fill="#111" textLength="49.5" lengthAdjust="spacing">0.2%Fe:TiO</text>
<text x="287.3" y="406.9" font-size="6.0" font-weight="bold" fill="#111">2</text>
<text x="236.6" y="435.4" font-size="9.4" font-weight="bold" fill="#111" textLength="50.8" lengthAdjust="spacing">0.4%Fe:TiO</text>
<text x="287.0" y="439.6" font-size="6.0" font-weight="bold" fill="#111">2</text>
<text x="236.1" y="449.7" font-size="9.4" font-weight="bold" fill="#111" textLength="51.3" lengthAdjust="spacing">0.3%Fe:TiO</text>
<text x="287.0" y="453.3" font-size="6.0" font-weight="bold" fill="#111">2</text>
<text x="232.0" y="306.2" font-size="9.9" font-weight="bold" fill="#111" textLength="70.8" lengthAdjust="spacingAndGlyphs">Original sample</text>
</svg></body></html>
